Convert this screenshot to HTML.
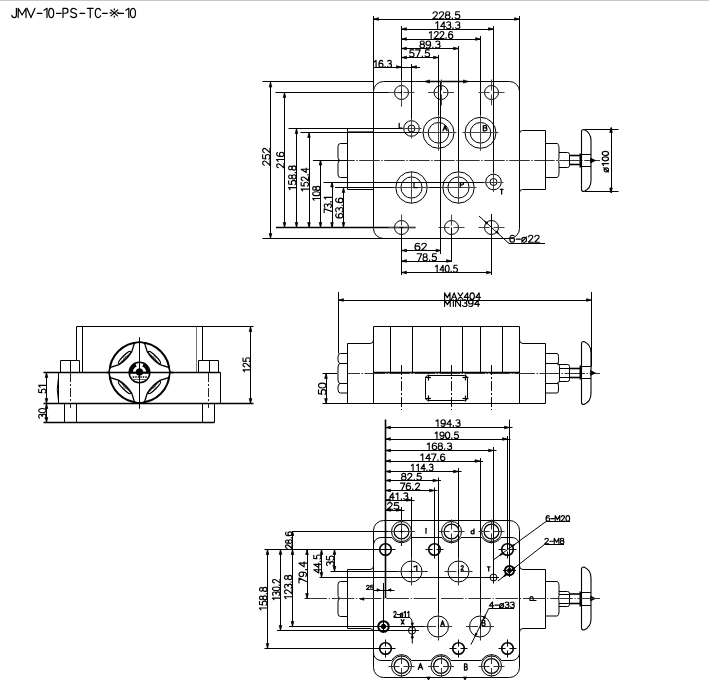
<!DOCTYPE html>
<html><head><meta charset="utf-8"><style>
html,body{margin:0;padding:0;background:#fff;}
body{width:709px;height:688px;overflow:hidden;position:relative;}
svg{position:absolute;left:0;top:0;}
text{font-family:"Liberation Sans",sans-serif;}
</style></head><body>
<svg width="709" height="688" viewBox="0 0 709 688">
<rect x="0" y="0" width="709" height="688" fill="#fff"/>
<line x1="0" y1="0.5" x2="709" y2="0.5" stroke="#c8c8c8" stroke-width="1" />
<path transform="translate(11.800,8.300) scale(8.846,9.300)" d="M0.52,0 V0.74 C0.52,0.92 0.42,1 0.28,1 C0.13,1 0.03,0.92 0,0.76" vector-effect="non-scaling-stroke" fill="none" stroke="#000" stroke-width="1.2" stroke-linecap="round" stroke-linejoin="round"/>
<path transform="translate(18.200,8.300) scale(10.541,9.300)" d="M0,1 V0 L0.37,0.72 L0.74,0 V1" vector-effect="non-scaling-stroke" fill="none" stroke="#000" stroke-width="1.2" stroke-linecap="round" stroke-linejoin="round"/>
<path transform="translate(27.000,8.300) scale(11.111,9.300)" d="M0,0 L0.36,1 L0.72,0" vector-effect="non-scaling-stroke" fill="none" stroke="#000" stroke-width="1.2" stroke-linecap="round" stroke-linejoin="round"/>
<path transform="translate(37.126,8.300) scale(8.679,9.300)" d="M0.02,0.55 H0.55" vector-effect="non-scaling-stroke" fill="none" stroke="#000" stroke-width="1.2" stroke-linecap="round" stroke-linejoin="round"/>
<path transform="translate(42.615,8.300) scale(11.538,9.300)" d="M0.12,0.2 L0.38,0 V1" vector-effect="non-scaling-stroke" fill="none" stroke="#000" stroke-width="1.2" stroke-linecap="round" stroke-linejoin="round"/>
<path transform="translate(48.700,8.300) scale(8.333,9.300)" d="M0.3,0 C0.06,0 0,0.3 0,0.5 C0,0.7 0.06,1 0.3,1 C0.54,1 0.6,0.7 0.6,0.5 C0.6,0.3 0.54,0 0.3,0 Z" vector-effect="non-scaling-stroke" fill="none" stroke="#000" stroke-width="1.2" stroke-linecap="round" stroke-linejoin="round"/>
<path transform="translate(56.326,8.300) scale(8.679,9.300)" d="M0.02,0.55 H0.55" vector-effect="non-scaling-stroke" fill="none" stroke="#000" stroke-width="1.2" stroke-linecap="round" stroke-linejoin="round"/>
<path transform="translate(63.000,8.300) scale(7.812,9.300)" d="M0,1 V0 H0.36 C0.54,0 0.64,0.1 0.64,0.27 C0.64,0.43 0.54,0.53 0.36,0.53 H0" vector-effect="non-scaling-stroke" fill="none" stroke="#000" stroke-width="1.2" stroke-linecap="round" stroke-linejoin="round"/>
<path transform="translate(70.600,8.300) scale(9.524,9.300)" d="M0.6,0.15 C0.52,0.05 0.43,0 0.31,0 C0.14,0 0.03,0.1 0.03,0.25 C0.03,0.57 0.63,0.42 0.63,0.74 C0.63,0.9 0.5,1 0.31,1 C0.18,1 0.07,0.95 0,0.85" vector-effect="non-scaling-stroke" fill="none" stroke="#000" stroke-width="1.2" stroke-linecap="round" stroke-linejoin="round"/>
<path transform="translate(79.826,8.300) scale(8.679,9.300)" d="M0.02,0.55 H0.55" vector-effect="non-scaling-stroke" fill="none" stroke="#000" stroke-width="1.2" stroke-linecap="round" stroke-linejoin="round"/>
<path transform="translate(87.300,8.300) scale(8.939,9.300)" d="M0,0 H0.66 M0.33,0 V1" vector-effect="non-scaling-stroke" fill="none" stroke="#000" stroke-width="1.2" stroke-linecap="round" stroke-linejoin="round"/>
<path transform="translate(95.300,8.300) scale(8.281,9.300)" d="M0.64,0.2 C0.57,0.07 0.46,0 0.34,0 C0.12,0 0,0.22 0,0.5 C0,0.78 0.12,1 0.34,1 C0.46,1 0.57,0.93 0.64,0.8" vector-effect="non-scaling-stroke" fill="none" stroke="#000" stroke-width="1.2" stroke-linecap="round" stroke-linejoin="round"/>
<path transform="translate(102.423,8.300) scale(8.868,9.300)" d="M0.02,0.55 H0.55" vector-effect="non-scaling-stroke" fill="none" stroke="#000" stroke-width="1.2" stroke-linecap="round" stroke-linejoin="round"/>
<path transform="translate(109.764,8.300) scale(11.806,9.300)" d="M0.1,0.18 L0.66,0.82 M0.66,0.18 L0.1,0.82 M0.38,0.05 V0.17 M0.38,0.83 V0.95 M0.02,0.5 H0.14 M0.62,0.5 H0.74" vector-effect="non-scaling-stroke" fill="none" stroke="#000" stroke-width="1.2" stroke-linecap="round" stroke-linejoin="round"/>
<path transform="translate(118.311,8.300) scale(9.434,9.300)" d="M0.02,0.55 H0.55" vector-effect="non-scaling-stroke" fill="none" stroke="#000" stroke-width="1.2" stroke-linecap="round" stroke-linejoin="round"/>
<path transform="translate(124.415,8.300) scale(11.538,9.300)" d="M0.12,0.2 L0.38,0 V1" vector-effect="non-scaling-stroke" fill="none" stroke="#000" stroke-width="1.2" stroke-linecap="round" stroke-linejoin="round"/>
<path transform="translate(130.400,8.300) scale(8.500,9.300)" d="M0.3,0 C0.06,0 0,0.3 0,0.5 C0,0.7 0.06,1 0.3,1 C0.54,1 0.6,0.7 0.6,0.5 C0.6,0.3 0.54,0 0.3,0 Z" vector-effect="non-scaling-stroke" fill="none" stroke="#000" stroke-width="1.2" stroke-linecap="round" stroke-linejoin="round"/>
<line x1="373.5" y1="16" x2="373.5" y2="91" stroke="#000" stroke-width="1" />
<line x1="373.5" y1="19.5" x2="519.5" y2="19.5" stroke="#000" stroke-width="1" />
<polygon points="373.5,19 378.5,17.7 378.5,20.3" fill="#000" stroke="#000" stroke-width="0.7" stroke-linejoin="round"/>
<polygon points="519.5,19 514.5,17.7 514.5,20.3" fill="#000" stroke="#000" stroke-width="0.7" stroke-linejoin="round"/>
<line x1="519.5" y1="16" x2="519.5" y2="92" stroke="#000" stroke-width="1" />
<g transform="translate(432.80,18.80)" fill="none" stroke="#000" stroke-width="1.15" stroke-linecap="round" stroke-linejoin="round"><path transform="translate(0.000,-7.000) scale(7.835,7.000)" d="M0.03,0.24 C0.06,0.06 0.18,0 0.3,0 C0.46,0 0.58,0.1 0.58,0.27 C0.58,0.45 0.4,0.58 0,1 H0.62" vector-effect="non-scaling-stroke"/><path transform="translate(6.268,-7.000) scale(7.835,7.000)" d="M0.03,0.24 C0.06,0.06 0.18,0 0.3,0 C0.46,0 0.58,0.1 0.58,0.27 C0.58,0.45 0.4,0.58 0,1 H0.62" vector-effect="non-scaling-stroke"/><path transform="translate(12.536,-7.000) scale(7.835,7.000)" d="M0.3,0.46 C0.13,0.46 0.04,0.36 0.04,0.23 C0.04,0.1 0.15,0 0.3,0 C0.45,0 0.56,0.1 0.56,0.23 C0.56,0.36 0.47,0.46 0.3,0.46 C0.12,0.46 0,0.58 0,0.73 C0,0.9 0.13,1 0.3,1 C0.47,1 0.6,0.9 0.6,0.73 C0.6,0.58 0.48,0.46 0.3,0.46 Z" vector-effect="non-scaling-stroke"/><path transform="translate(18.803,-7.000) scale(7.835,7.000)" d="M0.1,0.88 L0.1,1" vector-effect="non-scaling-stroke"/><path transform="translate(22.329,-7.000) scale(7.835,7.000)" d="M0.56,0 H0.1 L0.05,0.44 C0.13,0.39 0.21,0.37 0.3,0.37 C0.48,0.37 0.6,0.5 0.6,0.68 C0.6,0.88 0.47,1 0.3,1 C0.18,1 0.07,0.95 0.01,0.86" vector-effect="non-scaling-stroke"/></g>
<line x1="401.5" y1="26" x2="401.5" y2="106.5" stroke="#000" stroke-width="1" />
<line x1="401.5" y1="29.5" x2="493.5" y2="29.5" stroke="#000" stroke-width="1" />
<polygon points="401.5,29 406.5,27.7 406.5,30.3" fill="#000" stroke="#000" stroke-width="0.7" stroke-linejoin="round"/>
<polygon points="493.5,29 488.5,27.7 488.5,30.3" fill="#000" stroke="#000" stroke-width="0.7" stroke-linejoin="round"/>
<line x1="493.5" y1="26" x2="493.5" y2="182" stroke="#000" stroke-width="1" />
<g transform="translate(434.90,28.70)" fill="none" stroke="#000" stroke-width="1.15" stroke-linecap="round" stroke-linejoin="round"><path transform="translate(0.000,-7.000) scale(7.236,7.000)" d="M0.12,0.2 L0.38,0 V1" vector-effect="non-scaling-stroke"/><path transform="translate(5.789,-7.000) scale(7.236,7.000)" d="M0.47,1 V0 L0,0.68 H0.64" vector-effect="non-scaling-stroke"/><path transform="translate(11.578,-7.000) scale(7.236,7.000)" d="M0.04,0.1 C0.12,0.03 0.2,0 0.3,0 C0.46,0 0.57,0.1 0.57,0.24 C0.57,0.38 0.46,0.47 0.27,0.47 C0.5,0.47 0.6,0.58 0.6,0.73 C0.6,0.9 0.46,1 0.3,1 C0.18,1 0.08,0.96 0.01,0.87" vector-effect="non-scaling-stroke"/><path transform="translate(17.368,-7.000) scale(7.236,7.000)" d="M0.1,0.88 L0.1,1" vector-effect="non-scaling-stroke"/><path transform="translate(20.624,-7.000) scale(7.236,7.000)" d="M0.04,0.1 C0.12,0.03 0.2,0 0.3,0 C0.46,0 0.57,0.1 0.57,0.24 C0.57,0.38 0.46,0.47 0.27,0.47 C0.5,0.47 0.6,0.58 0.6,0.73 C0.6,0.9 0.46,1 0.3,1 C0.18,1 0.08,0.96 0.01,0.87" vector-effect="non-scaling-stroke"/></g>
<line x1="401.5" y1="39.5" x2="480.5" y2="39.5" stroke="#000" stroke-width="1" />
<polygon points="401.5,39 406.5,37.7 406.5,40.3" fill="#000" stroke="#000" stroke-width="0.7" stroke-linejoin="round"/>
<polygon points="480.5,39 475.5,37.7 475.5,40.3" fill="#000" stroke="#000" stroke-width="0.7" stroke-linejoin="round"/>
<line x1="480.5" y1="36" x2="480.5" y2="148" stroke="#000" stroke-width="1" />
<g transform="translate(428.50,38.50)" fill="none" stroke="#000" stroke-width="1.15" stroke-linecap="round" stroke-linejoin="round"><path transform="translate(0.000,-7.000) scale(7.037,7.000)" d="M0.12,0.2 L0.38,0 V1" vector-effect="non-scaling-stroke"/><path transform="translate(5.630,-7.000) scale(7.037,7.000)" d="M0.03,0.24 C0.06,0.06 0.18,0 0.3,0 C0.46,0 0.58,0.1 0.58,0.27 C0.58,0.45 0.4,0.58 0,1 H0.62" vector-effect="non-scaling-stroke"/><path transform="translate(11.259,-7.000) scale(7.037,7.000)" d="M0.03,0.24 C0.06,0.06 0.18,0 0.3,0 C0.46,0 0.58,0.1 0.58,0.27 C0.58,0.45 0.4,0.58 0,1 H0.62" vector-effect="non-scaling-stroke"/><path transform="translate(16.889,-7.000) scale(7.037,7.000)" d="M0.1,0.88 L0.1,1" vector-effect="non-scaling-stroke"/><path transform="translate(20.056,-7.000) scale(7.037,7.000)" d="M0.56,0.1 C0.49,0.03 0.41,0 0.32,0 C0.1,0 0,0.25 0,0.58 C0,0.86 0.12,1 0.3,1 C0.48,1 0.6,0.87 0.6,0.68 C0.6,0.5 0.48,0.38 0.3,0.38 C0.15,0.38 0.03,0.47 0,0.62" vector-effect="non-scaling-stroke"/></g>
<line x1="401.5" y1="48.5" x2="458.5" y2="48.5" stroke="#000" stroke-width="1" />
<polygon points="401.5,48.5 406.5,47.2 406.5,49.8" fill="#000" stroke="#000" stroke-width="0.7" stroke-linejoin="round"/>
<polygon points="458.5,48.5 453.5,47.2 453.5,49.8" fill="#000" stroke="#000" stroke-width="0.7" stroke-linejoin="round"/>
<line x1="458.5" y1="46" x2="458.5" y2="203" stroke="#000" stroke-width="1" />
<g transform="translate(420.00,48.00)" fill="none" stroke="#000" stroke-width="1.15" stroke-linecap="round" stroke-linejoin="round"><path transform="translate(0.000,-7.000) scale(7.565,7.000)" d="M0.3,0.46 C0.13,0.46 0.04,0.36 0.04,0.23 C0.04,0.1 0.15,0 0.3,0 C0.45,0 0.56,0.1 0.56,0.23 C0.56,0.36 0.47,0.46 0.3,0.46 C0.12,0.46 0,0.58 0,0.73 C0,0.9 0.13,1 0.3,1 C0.47,1 0.6,0.9 0.6,0.73 C0.6,0.58 0.48,0.46 0.3,0.46 Z" vector-effect="non-scaling-stroke"/><path transform="translate(6.052,-7.000) scale(7.565,7.000)" d="M0.04,0.9 C0.11,0.97 0.19,1 0.28,1 C0.5,1 0.6,0.75 0.6,0.42 C0.6,0.14 0.48,0 0.3,0 C0.12,0 0,0.13 0,0.32 C0,0.5 0.12,0.62 0.3,0.62 C0.45,0.62 0.57,0.53 0.6,0.38" vector-effect="non-scaling-stroke"/><path transform="translate(12.103,-7.000) scale(7.565,7.000)" d="M0.1,0.88 L0.1,1" vector-effect="non-scaling-stroke"/><path transform="translate(15.507,-7.000) scale(7.565,7.000)" d="M0.04,0.1 C0.12,0.03 0.2,0 0.3,0 C0.46,0 0.57,0.1 0.57,0.24 C0.57,0.38 0.46,0.47 0.27,0.47 C0.5,0.47 0.6,0.58 0.6,0.73 C0.6,0.9 0.46,1 0.3,1 C0.18,1 0.08,0.96 0.01,0.87" vector-effect="non-scaling-stroke"/></g>
<line x1="401.5" y1="57.5" x2="438.5" y2="57.5" stroke="#000" stroke-width="1" />
<polygon points="401.5,57.5 406.5,56.2 406.5,58.8" fill="#000" stroke="#000" stroke-width="0.7" stroke-linejoin="round"/>
<polygon points="438.5,57.5 433.5,56.2 433.5,58.8" fill="#000" stroke="#000" stroke-width="0.7" stroke-linejoin="round"/>
<line x1="438.5" y1="55" x2="438.5" y2="148" stroke="#000" stroke-width="1" />
<line x1="425" y1="81.5" x2="468" y2="81.5" stroke="#000" stroke-width="1.4" />
<polygon points="425.5,81.5 429.5,79.9 429.5,83.1" fill="#000" stroke="#000" stroke-width="0.7" stroke-linejoin="round"/>
<polygon points="467.5,81.5 463.5,79.9 463.5,83.1" fill="#000" stroke="#000" stroke-width="0.7" stroke-linejoin="round"/>
<g transform="translate(409.50,56.90)" fill="none" stroke="#000" stroke-width="1.15" stroke-linecap="round" stroke-linejoin="round"><path transform="translate(0.000,-7.000) scale(7.565,7.000)" d="M0.56,0 H0.1 L0.05,0.44 C0.13,0.39 0.21,0.37 0.3,0.37 C0.48,0.37 0.6,0.5 0.6,0.68 C0.6,0.88 0.47,1 0.3,1 C0.18,1 0.07,0.95 0.01,0.86" vector-effect="non-scaling-stroke"/><path transform="translate(6.052,-7.000) scale(7.565,7.000)" d="M0,0 H0.62 L0.2,1" vector-effect="non-scaling-stroke"/><path transform="translate(12.103,-7.000) scale(7.565,7.000)" d="M0.1,0.88 L0.1,1" vector-effect="non-scaling-stroke"/><path transform="translate(15.507,-7.000) scale(7.565,7.000)" d="M0.56,0 H0.1 L0.05,0.44 C0.13,0.39 0.21,0.37 0.3,0.37 C0.48,0.37 0.6,0.5 0.6,0.68 C0.6,0.88 0.47,1 0.3,1 C0.18,1 0.07,0.95 0.01,0.86" vector-effect="non-scaling-stroke"/></g>
<line x1="373.5" y1="67.5" x2="420" y2="67.5" stroke="#000" stroke-width="1" />
<polygon points="401.5,67 396.5,65.7 396.5,68.3" fill="#000" stroke="#000" stroke-width="0.7" stroke-linejoin="round"/>
<polygon points="411.5,67 416.5,65.7 416.5,68.3" fill="#000" stroke="#000" stroke-width="0.7" stroke-linejoin="round"/>
<line x1="411.5" y1="64" x2="411.5" y2="128" stroke="#000" stroke-width="1" />
<g transform="translate(373.50,67.40)" fill="none" stroke="#000" stroke-width="1.15" stroke-linecap="round" stroke-linejoin="round"><path transform="translate(0.000,-7.000) scale(6.790,7.000)" d="M0.12,0.2 L0.38,0 V1" vector-effect="non-scaling-stroke"/><path transform="translate(5.432,-7.000) scale(6.790,7.000)" d="M0.56,0.1 C0.49,0.03 0.41,0 0.32,0 C0.1,0 0,0.25 0,0.58 C0,0.86 0.12,1 0.3,1 C0.48,1 0.6,0.87 0.6,0.68 C0.6,0.5 0.48,0.38 0.3,0.38 C0.15,0.38 0.03,0.47 0,0.62" vector-effect="non-scaling-stroke"/><path transform="translate(10.863,-7.000) scale(6.790,7.000)" d="M0.1,0.88 L0.1,1" vector-effect="non-scaling-stroke"/><path transform="translate(13.919,-7.000) scale(6.790,7.000)" d="M0.04,0.1 C0.12,0.03 0.2,0 0.3,0 C0.46,0 0.57,0.1 0.57,0.24 C0.57,0.38 0.46,0.47 0.27,0.47 C0.5,0.47 0.6,0.58 0.6,0.73 C0.6,0.9 0.46,1 0.3,1 C0.18,1 0.08,0.96 0.01,0.87" vector-effect="non-scaling-stroke"/></g>
<line x1="262.5" y1="81.5" x2="373.5" y2="81.5" stroke="#000" stroke-width="1" />
<line x1="275.5" y1="92.5" x2="401.5" y2="92.5" stroke="#000" stroke-width="1" />
<line x1="288.5" y1="128.5" x2="404" y2="128.5" stroke="#000" stroke-width="1" />
<line x1="300.5" y1="132.5" x2="423" y2="132.5" stroke="#000" stroke-width="1" />
<line x1="323.5" y1="182.5" x2="493.5" y2="182.5" stroke="#000" stroke-width="1" />
<line x1="335" y1="187.5" x2="470" y2="187.5" stroke="#000" stroke-width="1" />
<line x1="276" y1="227.5" x2="415.5" y2="227.5" stroke="#000" stroke-width="1.6" />
<line x1="262.5" y1="238.5" x2="385" y2="238.5" stroke="#000" stroke-width="1" />
<line x1="270.5" y1="82" x2="270.5" y2="238.5" stroke="#000" stroke-width="1" />
<polygon points="270.5,82 269.2,87 271.8,87" fill="#000" stroke="#000" stroke-width="0.7" stroke-linejoin="round"/>
<polygon points="270.5,238.5 269.2,233.5 271.8,233.5" fill="#000" stroke="#000" stroke-width="0.7" stroke-linejoin="round"/>
<g transform="translate(270.00,165.50) rotate(-90)" fill="none" stroke="#000" stroke-width="1.15" stroke-linecap="round" stroke-linejoin="round"><path transform="translate(0.000,-7.350) scale(7.832,7.350)" d="M0.03,0.24 C0.06,0.06 0.18,0 0.3,0 C0.46,0 0.58,0.1 0.58,0.27 C0.58,0.45 0.4,0.58 0,1 H0.62" vector-effect="non-scaling-stroke"/><path transform="translate(6.265,-7.350) scale(7.832,7.350)" d="M0.56,0 H0.1 L0.05,0.44 C0.13,0.39 0.21,0.37 0.3,0.37 C0.48,0.37 0.6,0.5 0.6,0.68 C0.6,0.88 0.47,1 0.3,1 C0.18,1 0.07,0.95 0.01,0.86" vector-effect="non-scaling-stroke"/><path transform="translate(12.531,-7.350) scale(7.832,7.350)" d="M0.03,0.24 C0.06,0.06 0.18,0 0.3,0 C0.46,0 0.58,0.1 0.58,0.27 C0.58,0.45 0.4,0.58 0,1 H0.62" vector-effect="non-scaling-stroke"/></g>
<line x1="284.5" y1="92.5" x2="284.5" y2="227.5" stroke="#000" stroke-width="1" />
<polygon points="284.5,92.5 283.2,97.5 285.8,97.5" fill="#000" stroke="#000" stroke-width="0.7" stroke-linejoin="round"/>
<polygon points="284.5,227.5 283.2,222.5 285.8,222.5" fill="#000" stroke="#000" stroke-width="0.7" stroke-linejoin="round"/>
<g transform="translate(284.00,168.00) rotate(-90)" fill="none" stroke="#000" stroke-width="1.15" stroke-linecap="round" stroke-linejoin="round"><path transform="translate(0.000,-7.350) scale(7.168,7.350)" d="M0.03,0.24 C0.06,0.06 0.18,0 0.3,0 C0.46,0 0.58,0.1 0.58,0.27 C0.58,0.45 0.4,0.58 0,1 H0.62" vector-effect="non-scaling-stroke"/><path transform="translate(5.735,-7.350) scale(7.168,7.350)" d="M0.12,0.2 L0.38,0 V1" vector-effect="non-scaling-stroke"/><path transform="translate(11.469,-7.350) scale(7.168,7.350)" d="M0.56,0.1 C0.49,0.03 0.41,0 0.32,0 C0.1,0 0,0.25 0,0.58 C0,0.86 0.12,1 0.3,1 C0.48,1 0.6,0.87 0.6,0.68 C0.6,0.5 0.48,0.38 0.3,0.38 C0.15,0.38 0.03,0.47 0,0.62" vector-effect="non-scaling-stroke"/></g>
<line x1="296.5" y1="128.5" x2="296.5" y2="227.5" stroke="#000" stroke-width="1" />
<polygon points="296.5,128.5 295.2,133.5 297.8,133.5" fill="#000" stroke="#000" stroke-width="0.7" stroke-linejoin="round"/>
<polygon points="296.5,227.5 295.2,222.5 297.8,222.5" fill="#000" stroke="#000" stroke-width="0.7" stroke-linejoin="round"/>
<g transform="translate(296.00,190.40) rotate(-90)" fill="none" stroke="#000" stroke-width="1.15" stroke-linecap="round" stroke-linejoin="round"><path transform="translate(0.000,-7.350) scale(7.123,7.350)" d="M0.12,0.2 L0.38,0 V1" vector-effect="non-scaling-stroke"/><path transform="translate(5.698,-7.350) scale(7.123,7.350)" d="M0.56,0 H0.1 L0.05,0.44 C0.13,0.39 0.21,0.37 0.3,0.37 C0.48,0.37 0.6,0.5 0.6,0.68 C0.6,0.88 0.47,1 0.3,1 C0.18,1 0.07,0.95 0.01,0.86" vector-effect="non-scaling-stroke"/><path transform="translate(11.396,-7.350) scale(7.123,7.350)" d="M0.3,0.46 C0.13,0.46 0.04,0.36 0.04,0.23 C0.04,0.1 0.15,0 0.3,0 C0.45,0 0.56,0.1 0.56,0.23 C0.56,0.36 0.47,0.46 0.3,0.46 C0.12,0.46 0,0.58 0,0.73 C0,0.9 0.13,1 0.3,1 C0.47,1 0.6,0.9 0.6,0.73 C0.6,0.58 0.48,0.46 0.3,0.46 Z" vector-effect="non-scaling-stroke"/><path transform="translate(17.094,-7.350) scale(7.123,7.350)" d="M0.1,0.88 L0.1,1" vector-effect="non-scaling-stroke"/><path transform="translate(20.299,-7.350) scale(7.123,7.350)" d="M0.3,0.46 C0.13,0.46 0.04,0.36 0.04,0.23 C0.04,0.1 0.15,0 0.3,0 C0.45,0 0.56,0.1 0.56,0.23 C0.56,0.36 0.47,0.46 0.3,0.46 C0.12,0.46 0,0.58 0,0.73 C0,0.9 0.13,1 0.3,1 C0.47,1 0.6,0.9 0.6,0.73 C0.6,0.58 0.48,0.46 0.3,0.46 Z" vector-effect="non-scaling-stroke"/></g>
<line x1="309.5" y1="132.5" x2="309.5" y2="227.5" stroke="#000" stroke-width="1" />
<polygon points="309,132.5 307.7,137.5 310.3,137.5" fill="#000" stroke="#000" stroke-width="0.7" stroke-linejoin="round"/>
<polygon points="309,227.5 307.7,222.5 310.3,222.5" fill="#000" stroke="#000" stroke-width="0.7" stroke-linejoin="round"/>
<g transform="translate(308.50,191.70) rotate(-90)" fill="none" stroke="#000" stroke-width="1.15" stroke-linecap="round" stroke-linejoin="round"><path transform="translate(0.000,-7.350) scale(6.752,7.350)" d="M0.12,0.2 L0.38,0 V1" vector-effect="non-scaling-stroke"/><path transform="translate(5.402,-7.350) scale(6.752,7.350)" d="M0.56,0 H0.1 L0.05,0.44 C0.13,0.39 0.21,0.37 0.3,0.37 C0.48,0.37 0.6,0.5 0.6,0.68 C0.6,0.88 0.47,1 0.3,1 C0.18,1 0.07,0.95 0.01,0.86" vector-effect="non-scaling-stroke"/><path transform="translate(10.803,-7.350) scale(6.752,7.350)" d="M0.03,0.24 C0.06,0.06 0.18,0 0.3,0 C0.46,0 0.58,0.1 0.58,0.27 C0.58,0.45 0.4,0.58 0,1 H0.62" vector-effect="non-scaling-stroke"/><path transform="translate(16.205,-7.350) scale(6.752,7.350)" d="M0.1,0.88 L0.1,1" vector-effect="non-scaling-stroke"/><path transform="translate(19.244,-7.350) scale(6.752,7.350)" d="M0.47,1 V0 L0,0.68 H0.64" vector-effect="non-scaling-stroke"/></g>
<line x1="320.5" y1="160" x2="320.5" y2="227.5" stroke="#000" stroke-width="1" />
<polygon points="320.5,160 319.2,165 321.8,165" fill="#000" stroke="#000" stroke-width="0.7" stroke-linejoin="round"/>
<polygon points="320.5,227.5 319.2,222.5 321.8,222.5" fill="#000" stroke="#000" stroke-width="0.7" stroke-linejoin="round"/>
<g transform="translate(320.00,201.00) rotate(-90)" fill="none" stroke="#000" stroke-width="1.15" stroke-linecap="round" stroke-linejoin="round"><path transform="translate(0.000,-7.350) scale(6.637,7.350)" d="M0.12,0.2 L0.38,0 V1" vector-effect="non-scaling-stroke"/><path transform="translate(5.310,-7.350) scale(6.637,7.350)" d="M0.3,0 C0.06,0 0,0.3 0,0.5 C0,0.7 0.06,1 0.3,1 C0.54,1 0.6,0.7 0.6,0.5 C0.6,0.3 0.54,0 0.3,0 Z" vector-effect="non-scaling-stroke"/><path transform="translate(10.619,-7.350) scale(6.637,7.350)" d="M0.3,0.46 C0.13,0.46 0.04,0.36 0.04,0.23 C0.04,0.1 0.15,0 0.3,0 C0.45,0 0.56,0.1 0.56,0.23 C0.56,0.36 0.47,0.46 0.3,0.46 C0.12,0.46 0,0.58 0,0.73 C0,0.9 0.13,1 0.3,1 C0.47,1 0.6,0.9 0.6,0.73 C0.6,0.58 0.48,0.46 0.3,0.46 Z" vector-effect="non-scaling-stroke"/></g>
<line x1="332.5" y1="182" x2="332.5" y2="227.5" stroke="#000" stroke-width="1" />
<polygon points="332,182 330.7,187 333.3,187" fill="#000" stroke="#000" stroke-width="0.7" stroke-linejoin="round"/>
<polygon points="332,227.5 330.7,222.5 333.3,222.5" fill="#000" stroke="#000" stroke-width="0.7" stroke-linejoin="round"/>
<g transform="translate(331.50,212.60) rotate(-90)" fill="none" stroke="#000" stroke-width="1.15" stroke-linecap="round" stroke-linejoin="round"><path transform="translate(0.000,-7.350) scale(6.273,7.350)" d="M0,0 H0.62 L0.2,1" vector-effect="non-scaling-stroke"/><path transform="translate(5.018,-7.350) scale(6.273,7.350)" d="M0.04,0.1 C0.12,0.03 0.2,0 0.3,0 C0.46,0 0.57,0.1 0.57,0.24 C0.57,0.38 0.46,0.47 0.27,0.47 C0.5,0.47 0.6,0.58 0.6,0.73 C0.6,0.9 0.46,1 0.3,1 C0.18,1 0.08,0.96 0.01,0.87" vector-effect="non-scaling-stroke"/><path transform="translate(10.037,-7.350) scale(6.273,7.350)" d="M0.1,0.88 L0.1,1" vector-effect="non-scaling-stroke"/><path transform="translate(12.860,-7.350) scale(6.273,7.350)" d="M0.12,0.2 L0.38,0 V1" vector-effect="non-scaling-stroke"/></g>
<line x1="343.5" y1="187.5" x2="343.5" y2="227.5" stroke="#000" stroke-width="1" />
<polygon points="343.5,187.5 342.2,192.5 344.8,192.5" fill="#000" stroke="#000" stroke-width="0.7" stroke-linejoin="round"/>
<polygon points="343.5,227.5 342.2,222.5 344.8,222.5" fill="#000" stroke="#000" stroke-width="0.7" stroke-linejoin="round"/>
<g transform="translate(343.00,218.00) rotate(-90)" fill="none" stroke="#000" stroke-width="1.15" stroke-linecap="round" stroke-linejoin="round"><path transform="translate(0.000,-7.350) scale(7.491,7.350)" d="M0.56,0.1 C0.49,0.03 0.41,0 0.32,0 C0.1,0 0,0.25 0,0.58 C0,0.86 0.12,1 0.3,1 C0.48,1 0.6,0.87 0.6,0.68 C0.6,0.5 0.48,0.38 0.3,0.38 C0.15,0.38 0.03,0.47 0,0.62" vector-effect="non-scaling-stroke"/><path transform="translate(5.993,-7.350) scale(7.491,7.350)" d="M0.04,0.1 C0.12,0.03 0.2,0 0.3,0 C0.46,0 0.57,0.1 0.57,0.24 C0.57,0.38 0.46,0.47 0.27,0.47 C0.5,0.47 0.6,0.58 0.6,0.73 C0.6,0.9 0.46,1 0.3,1 C0.18,1 0.08,0.96 0.01,0.87" vector-effect="non-scaling-stroke"/><path transform="translate(11.985,-7.350) scale(7.491,7.350)" d="M0.1,0.88 L0.1,1" vector-effect="non-scaling-stroke"/><path transform="translate(15.356,-7.350) scale(7.491,7.350)" d="M0.56,0.1 C0.49,0.03 0.41,0 0.32,0 C0.1,0 0,0.25 0,0.58 C0,0.86 0.12,1 0.3,1 C0.48,1 0.6,0.87 0.6,0.68 C0.6,0.5 0.48,0.38 0.3,0.38 C0.15,0.38 0.03,0.47 0,0.62" vector-effect="non-scaling-stroke"/></g>
<path d="M383.5,81.5 H509.5 A10,10 0 0 1 519.5,91.5 V228.5 A10,10 0 0 1 509.5,238.5 H383.5 A10,10 0 0 1 373.5,228.5 V91.5 A10,10 0 0 1 383.5,81.5 Z" fill="none" stroke="#000" stroke-width="1"/>
<path d="M373.5,128.5 H347.5 V189.5 H373.5" fill="none" stroke="#000" stroke-width="1"/>
<line x1="347.5" y1="131.5" x2="373.5" y2="131.5" stroke="#666" stroke-width="1" />
<path d="M347.5,143.5 H340.5 Q338,143.5 338,146.5 V157.5 Q338,160.5 340.5,160.5 H347.5 M340.5,160.5 H340.5 Q338,160.5 338,163.5 V174.5 Q338,177.5 340.5,177.5 H347.5" fill="none" stroke="#000" stroke-width="1"/>
<line x1="313" y1="160.5" x2="347.5" y2="160.5" stroke="#000" stroke-width="1" />
<line x1="347.5" y1="160.5" x2="600" y2="160.5" stroke="#333" stroke-width="1" stroke-dasharray="20.5 1.5 1.5 1.5" stroke-dashoffset="13.3"/>
<path d="M519.5,133.5 Q519.5,130.5 522.5,130.5 H545.5 V189.5 H522.5 Q519.5,189.5 519.5,192.5" fill="none" stroke="#000" stroke-width="1"/>
<path d="M545.5,143.5 H557.5 Q559.0,145.0 559.0,147.5 V157.5 Q559.0,159.5 558.0,160.5 Q559.0,161.5 559.0,163.5 V173.5 Q559.0,176.0 557.5,177.5 H545.5" fill="none" stroke="#000" stroke-width="1"/>
<path d="M559.0,152.5 H567.5 Q569.5,152.5 569.5,154.5 V165.5 Q569.5,167.5 567.5,167.5 H559.0" fill="none" stroke="#000" stroke-width="1"/>
<line x1="569.5" y1="155.5" x2="581" y2="155.5" stroke="#000" stroke-width="1.6" />
<line x1="569.5" y1="164.5" x2="581" y2="164.5" stroke="#000" stroke-width="1.6" />
<path d="M581.5,131.5 Q581.5,129.5 584,129.5 Q591,132.5 591,140.5 V180.5 Q591,188.5 584,191.5 Q581.5,191.5 581.5,189.5 Z" fill="none" stroke="#000" stroke-width="1.1"/>
<line x1="580.5" y1="153.5" x2="580.5" y2="167.5" stroke="#000" stroke-width="2" />
<line x1="581.5" y1="154.5" x2="591" y2="154.5" stroke="#000" stroke-width="1" />
<line x1="581.5" y1="166.5" x2="591" y2="166.5" stroke="#000" stroke-width="1" />
<polygon points="595.5,160.5 590.5,158.1 590.5,162.9" fill="#000" stroke="#000" stroke-width="0.7" stroke-linejoin="round"/>
<line x1="585" y1="129.5" x2="618.5" y2="129.5" stroke="#000" stroke-width="1" />
<line x1="585" y1="191.5" x2="618.5" y2="191.5" stroke="#000" stroke-width="1" />
<line x1="611.5" y1="127.5" x2="611.5" y2="193" stroke="#000" stroke-width="1" />
<polygon points="611,127.5 609.7,132.5 612.3,132.5" fill="#000" stroke="#000" stroke-width="0.7" stroke-linejoin="round"/>
<polygon points="611,193 609.7,188 612.3,188" fill="#000" stroke="#000" stroke-width="0.7" stroke-linejoin="round"/>
<g transform="translate(608.50,172.00) rotate(-90)" fill="none" stroke="#000" stroke-width="1.15" stroke-linecap="round" stroke-linejoin="round"><path transform="translate(0.000,-6.300) scale(6.752,6.300)" d="M0.32,0.3 C0.12,0.3 0.02,0.45 0.02,0.65 C0.02,0.86 0.12,1 0.32,1 C0.52,1 0.62,0.86 0.62,0.65 C0.62,0.45 0.52,0.3 0.32,0.3 Z M0,1 L0.64,0.25" vector-effect="non-scaling-stroke"/><path transform="translate(5.740,-6.300) scale(6.752,6.300)" d="M0.12,0.2 L0.38,0 V1" vector-effect="non-scaling-stroke"/><path transform="translate(11.141,-6.300) scale(6.752,6.300)" d="M0.3,0 C0.06,0 0,0.3 0,0.5 C0,0.7 0.06,1 0.3,1 C0.54,1 0.6,0.7 0.6,0.5 C0.6,0.3 0.54,0 0.3,0 Z" vector-effect="non-scaling-stroke"/><path transform="translate(16.543,-6.300) scale(6.752,6.300)" d="M0.3,0 C0.06,0 0,0.3 0,0.5 C0,0.7 0.06,1 0.3,1 C0.54,1 0.6,0.7 0.6,0.5 C0.6,0.3 0.54,0 0.3,0 Z" vector-effect="non-scaling-stroke"/></g>
<circle cx="401.5" cy="92.5" r="7" fill="none" stroke="#000" stroke-width="1"/>
<line x1="388.5" y1="92.5" x2="399.5" y2="92.5" stroke="#444" stroke-width="1" />
<line x1="403.5" y1="92.5" x2="414.5" y2="92.5" stroke="#444" stroke-width="1" />
<line x1="401.5" y1="79.5" x2="401.5" y2="90.5" stroke="#444" stroke-width="1" />
<line x1="401.5" y1="94.5" x2="401.5" y2="105.5" stroke="#444" stroke-width="1" />
<circle cx="441" cy="92.5" r="7" fill="none" stroke="#000" stroke-width="1"/>
<line x1="428" y1="92.5" x2="439" y2="92.5" stroke="#444" stroke-width="1" />
<line x1="443" y1="92.5" x2="454" y2="92.5" stroke="#444" stroke-width="1" />
<line x1="441.5" y1="79.5" x2="441.5" y2="90.5" stroke="#444" stroke-width="1" />
<line x1="441.5" y1="94.5" x2="441.5" y2="105.5" stroke="#444" stroke-width="1" />
<circle cx="491.5" cy="92.5" r="7" fill="none" stroke="#000" stroke-width="1"/>
<line x1="478.5" y1="92.5" x2="489.5" y2="92.5" stroke="#444" stroke-width="1" />
<line x1="493.5" y1="92.5" x2="504.5" y2="92.5" stroke="#444" stroke-width="1" />
<line x1="491.5" y1="79.5" x2="491.5" y2="90.5" stroke="#444" stroke-width="1" />
<line x1="491.5" y1="94.5" x2="491.5" y2="105.5" stroke="#444" stroke-width="1" />
<circle cx="401.5" cy="227.5" r="7" fill="none" stroke="#000" stroke-width="1"/>
<line x1="388.5" y1="227.5" x2="399.5" y2="227.5" stroke="#444" stroke-width="1" />
<line x1="403.5" y1="227.5" x2="414.5" y2="227.5" stroke="#444" stroke-width="1" />
<line x1="401.5" y1="214.5" x2="401.5" y2="225.5" stroke="#444" stroke-width="1" />
<line x1="401.5" y1="229.5" x2="401.5" y2="240.5" stroke="#444" stroke-width="1" />
<circle cx="451.5" cy="227.5" r="7" fill="none" stroke="#000" stroke-width="1"/>
<line x1="438.5" y1="227.5" x2="449.5" y2="227.5" stroke="#444" stroke-width="1" />
<line x1="453.5" y1="227.5" x2="464.5" y2="227.5" stroke="#444" stroke-width="1" />
<line x1="451.5" y1="214.5" x2="451.5" y2="225.5" stroke="#444" stroke-width="1" />
<line x1="451.5" y1="229.5" x2="451.5" y2="240.5" stroke="#444" stroke-width="1" />
<circle cx="491.5" cy="227.5" r="7" fill="none" stroke="#000" stroke-width="1"/>
<line x1="478.5" y1="227.5" x2="489.5" y2="227.5" stroke="#444" stroke-width="1" />
<line x1="493.5" y1="227.5" x2="504.5" y2="227.5" stroke="#444" stroke-width="1" />
<line x1="491.5" y1="214.5" x2="491.5" y2="225.5" stroke="#444" stroke-width="1" />
<line x1="491.5" y1="229.5" x2="491.5" y2="240.5" stroke="#444" stroke-width="1" />
<circle cx="438.5" cy="132.8" r="15.5" fill="none" stroke="#000" stroke-width="1"/>
<circle cx="438.5" cy="132.8" r="10.3" fill="none" stroke="#000" stroke-width="1"/>
<line x1="420.5" y1="132.5" x2="456.5" y2="132.5" stroke="#444" stroke-width="1" />
<line x1="438.5" y1="114.8" x2="438.5" y2="150.8" stroke="#444" stroke-width="1" />
<circle cx="480.5" cy="132.8" r="15.5" fill="none" stroke="#000" stroke-width="1"/>
<circle cx="480.5" cy="132.8" r="10.3" fill="none" stroke="#000" stroke-width="1"/>
<line x1="462.5" y1="132.5" x2="498.5" y2="132.5" stroke="#444" stroke-width="1" />
<line x1="480.5" y1="114.8" x2="480.5" y2="150.8" stroke="#444" stroke-width="1" />
<circle cx="411.5" cy="187.5" r="15.7" fill="none" stroke="#000" stroke-width="1"/>
<circle cx="411.5" cy="187.5" r="10.6" fill="none" stroke="#000" stroke-width="1"/>
<line x1="393.5" y1="187.5" x2="429.5" y2="187.5" stroke="#444" stroke-width="1" />
<line x1="411.5" y1="171.5" x2="411.5" y2="203.5" stroke="#444" stroke-width="1" />
<circle cx="458.5" cy="187.5" r="15.7" fill="none" stroke="#000" stroke-width="1"/>
<circle cx="458.5" cy="187.5" r="10.6" fill="none" stroke="#000" stroke-width="1"/>
<line x1="440.5" y1="187.5" x2="476.5" y2="187.5" stroke="#444" stroke-width="1" />
<line x1="458.5" y1="171.5" x2="458.5" y2="203.5" stroke="#444" stroke-width="1" />
<circle cx="411.5" cy="128.5" r="7.8" fill="none" stroke="#000" stroke-width="1"/>
<circle cx="411.5" cy="128.5" r="3.5" fill="none" stroke="#000" stroke-width="1"/>
<line x1="401.5" y1="128.5" x2="421.5" y2="128.5" stroke="#444" stroke-width="1" />
<line x1="411.5" y1="118.5" x2="411.5" y2="138.5" stroke="#444" stroke-width="1" />
<circle cx="493.5" cy="182" r="7.8" fill="none" stroke="#000" stroke-width="1"/>
<circle cx="493.5" cy="182" r="3.5" fill="none" stroke="#000" stroke-width="1"/>
<line x1="483.5" y1="182.5" x2="503.5" y2="182.5" stroke="#444" stroke-width="1" />
<line x1="493.5" y1="172" x2="493.5" y2="192" stroke="#444" stroke-width="1" />
<line x1="401.5" y1="227.5" x2="401.5" y2="275" stroke="#000" stroke-width="1" />
<line x1="440.5" y1="81" x2="440.5" y2="254" stroke="#000" stroke-width="1" />
<line x1="451.5" y1="227.5" x2="451.5" y2="262" stroke="#000" stroke-width="1" />
<line x1="491.5" y1="214" x2="491.5" y2="275" stroke="#000" stroke-width="1" />
<line x1="401.5" y1="250.5" x2="441" y2="250.5" stroke="#000" stroke-width="1" />
<polygon points="401.5,250.5 406.5,249.2 406.5,251.8" fill="#000" stroke="#000" stroke-width="0.7" stroke-linejoin="round"/>
<polygon points="441,250.5 436,249.2 436,251.8" fill="#000" stroke="#000" stroke-width="0.7" stroke-linejoin="round"/>
<g transform="translate(415.00,250.20)" fill="none" stroke="#000" stroke-width="1.15" stroke-linecap="round" stroke-linejoin="round"><path transform="translate(0.000,-7.000) scale(8.219,7.000)" d="M0.56,0.1 C0.49,0.03 0.41,0 0.32,0 C0.1,0 0,0.25 0,0.58 C0,0.86 0.12,1 0.3,1 C0.48,1 0.6,0.87 0.6,0.68 C0.6,0.5 0.48,0.38 0.3,0.38 C0.15,0.38 0.03,0.47 0,0.62" vector-effect="non-scaling-stroke"/><path transform="translate(6.575,-7.000) scale(8.219,7.000)" d="M0.03,0.24 C0.06,0.06 0.18,0 0.3,0 C0.46,0 0.58,0.1 0.58,0.27 C0.58,0.45 0.4,0.58 0,1 H0.62" vector-effect="non-scaling-stroke"/></g>
<line x1="401.5" y1="261.5" x2="451.5" y2="261.5" stroke="#000" stroke-width="1" />
<polygon points="401.5,261 406.5,259.7 406.5,262.3" fill="#000" stroke="#000" stroke-width="0.7" stroke-linejoin="round"/>
<polygon points="451.5,261 446.5,259.7 446.5,262.3" fill="#000" stroke="#000" stroke-width="0.7" stroke-linejoin="round"/>
<g transform="translate(417.10,260.80)" fill="none" stroke="#000" stroke-width="1.15" stroke-linecap="round" stroke-linejoin="round"><path transform="translate(0.000,-7.000) scale(7.306,7.000)" d="M0,0 H0.62 L0.2,1" vector-effect="non-scaling-stroke"/><path transform="translate(5.845,-7.000) scale(7.306,7.000)" d="M0.3,0.46 C0.13,0.46 0.04,0.36 0.04,0.23 C0.04,0.1 0.15,0 0.3,0 C0.45,0 0.56,0.1 0.56,0.23 C0.56,0.36 0.47,0.46 0.3,0.46 C0.12,0.46 0,0.58 0,0.73 C0,0.9 0.13,1 0.3,1 C0.47,1 0.6,0.9 0.6,0.73 C0.6,0.58 0.48,0.46 0.3,0.46 Z" vector-effect="non-scaling-stroke"/><path transform="translate(11.690,-7.000) scale(7.306,7.000)" d="M0.1,0.88 L0.1,1" vector-effect="non-scaling-stroke"/><path transform="translate(14.978,-7.000) scale(7.306,7.000)" d="M0.56,0 H0.1 L0.05,0.44 C0.13,0.39 0.21,0.37 0.3,0.37 C0.48,0.37 0.6,0.5 0.6,0.68 C0.6,0.88 0.47,1 0.3,1 C0.18,1 0.07,0.95 0.01,0.86" vector-effect="non-scaling-stroke"/></g>
<line x1="401.5" y1="272.5" x2="491.5" y2="272.5" stroke="#000" stroke-width="1" />
<polygon points="401.5,272.5 406.5,271.2 406.5,273.8" fill="#000" stroke="#000" stroke-width="0.7" stroke-linejoin="round"/>
<polygon points="491.5,272.5 486.5,271.2 486.5,273.8" fill="#000" stroke="#000" stroke-width="0.7" stroke-linejoin="round"/>
<g transform="translate(434.70,272.20)" fill="none" stroke="#000" stroke-width="1.15" stroke-linecap="round" stroke-linejoin="round"><path transform="translate(0.000,-7.000) scale(6.581,7.000)" d="M0.12,0.2 L0.38,0 V1" vector-effect="non-scaling-stroke"/><path transform="translate(5.265,-7.000) scale(6.581,7.000)" d="M0.47,1 V0 L0,0.68 H0.64" vector-effect="non-scaling-stroke"/><path transform="translate(10.530,-7.000) scale(6.581,7.000)" d="M0.3,0 C0.06,0 0,0.3 0,0.5 C0,0.7 0.06,1 0.3,1 C0.54,1 0.6,0.7 0.6,0.5 C0.6,0.3 0.54,0 0.3,0 Z" vector-effect="non-scaling-stroke"/><path transform="translate(15.795,-7.000) scale(6.581,7.000)" d="M0.1,0.88 L0.1,1" vector-effect="non-scaling-stroke"/><path transform="translate(18.756,-7.000) scale(6.581,7.000)" d="M0.56,0 H0.1 L0.05,0.44 C0.13,0.39 0.21,0.37 0.3,0.37 C0.48,0.37 0.6,0.5 0.6,0.68 C0.6,0.88 0.47,1 0.3,1 C0.18,1 0.07,0.95 0.01,0.86" vector-effect="non-scaling-stroke"/></g>
<line x1="479" y1="216" x2="509" y2="243.5" stroke="#000" stroke-width="1" />
<line x1="509" y1="243.5" x2="545" y2="243.5" stroke="#000" stroke-width="1" />
<polygon points="484.00,220.50 488.35,222.40 486.34,224.63" fill="#000"/>
<polygon points="499.50,234.50 495.15,232.60 497.16,230.37" fill="#000"/>
<g transform="translate(509.80,242.20)" fill="none" stroke="#000" stroke-width="1.15" stroke-linecap="round" stroke-linejoin="round"><path transform="translate(0.000,-7.000) scale(7.874,7.000)" d="M0.56,0.1 C0.49,0.03 0.41,0 0.32,0 C0.1,0 0,0.25 0,0.58 C0,0.86 0.12,1 0.3,1 C0.48,1 0.6,0.87 0.6,0.68 C0.6,0.5 0.48,0.38 0.3,0.38 C0.15,0.38 0.03,0.47 0,0.62" vector-effect="non-scaling-stroke"/><path transform="translate(6.299,-7.000) scale(7.874,7.000)" d="M0.02,0.55 H0.55" vector-effect="non-scaling-stroke"/><path transform="translate(11.811,-7.000) scale(7.874,7.000)" d="M0.32,0.3 C0.12,0.3 0.02,0.45 0.02,0.65 C0.02,0.86 0.12,1 0.32,1 C0.52,1 0.62,0.86 0.62,0.65 C0.62,0.45 0.52,0.3 0.32,0.3 Z M0,1 L0.64,0.25" vector-effect="non-scaling-stroke"/><path transform="translate(18.504,-7.000) scale(7.874,7.000)" d="M0.03,0.24 C0.06,0.06 0.18,0 0.3,0 C0.46,0 0.58,0.1 0.58,0.27 C0.58,0.45 0.4,0.58 0,1 H0.62" vector-effect="non-scaling-stroke"/><path transform="translate(24.803,-7.000) scale(7.874,7.000)" d="M0.03,0.24 C0.06,0.06 0.18,0 0.3,0 C0.46,0 0.58,0.1 0.58,0.27 C0.58,0.45 0.4,0.58 0,1 H0.62" vector-effect="non-scaling-stroke"/></g>
<line x1="338.5" y1="292" x2="338.5" y2="353.5" stroke="#000" stroke-width="1" />
<line x1="591.5" y1="292" x2="591.5" y2="366.5" stroke="#000" stroke-width="1" />
<line x1="338.5" y1="300.5" x2="591.5" y2="300.5" stroke="#000" stroke-width="1" />
<polygon points="338.5,300 343.5,298.7 343.5,301.3" fill="#000" stroke="#000" stroke-width="0.7" stroke-linejoin="round"/>
<polygon points="591.5,300 586.5,298.7 586.5,301.3" fill="#000" stroke="#000" stroke-width="0.7" stroke-linejoin="round"/>
<g transform="translate(444.60,299.50)" fill="none" stroke="#000" stroke-width="1.15" stroke-linecap="round" stroke-linejoin="round"><path transform="translate(0.000,-6.650) scale(7.258,6.650)" d="M0,1 V0 L0.37,0.72 L0.74,0 V1" vector-effect="non-scaling-stroke"/><path transform="translate(6.895,-6.650) scale(7.258,6.650)" d="M0,1 L0.36,0 L0.72,1 M0.13,0.66 H0.59" vector-effect="non-scaling-stroke"/><path transform="translate(13.427,-6.650) scale(7.258,6.650)" d="M0,0 L0.66,1 M0.66,0 L0,1" vector-effect="non-scaling-stroke"/><path transform="translate(19.597,-6.650) scale(7.258,6.650)" d="M0.47,1 V0 L0,0.68 H0.64" vector-effect="non-scaling-stroke"/><path transform="translate(25.403,-6.650) scale(7.258,6.650)" d="M0.3,0 C0.06,0 0,0.3 0,0.5 C0,0.7 0.06,1 0.3,1 C0.54,1 0.6,0.7 0.6,0.5 C0.6,0.3 0.54,0 0.3,0 Z" vector-effect="non-scaling-stroke"/><path transform="translate(31.210,-6.650) scale(7.258,6.650)" d="M0.47,1 V0 L0,0.68 H0.64" vector-effect="non-scaling-stroke"/></g>
<g transform="translate(444.60,306.50)" fill="none" stroke="#000" stroke-width="1.15" stroke-linecap="round" stroke-linejoin="round"><path transform="translate(0.000,-6.650) scale(7.592,6.650)" d="M0,1 V0 L0.37,0.72 L0.74,0 V1" vector-effect="non-scaling-stroke"/><path transform="translate(7.213,-6.650) scale(7.592,6.650)" d="M0.2,0 V1" vector-effect="non-scaling-stroke"/><path transform="translate(11.009,-6.650) scale(7.592,6.650)" d="M0,1 V0 L0.64,1 V0" vector-effect="non-scaling-stroke"/><path transform="translate(17.842,-6.650) scale(7.592,6.650)" d="M0.04,0.1 C0.12,0.03 0.2,0 0.3,0 C0.46,0 0.57,0.1 0.57,0.24 C0.57,0.38 0.46,0.47 0.27,0.47 C0.5,0.47 0.6,0.58 0.6,0.73 C0.6,0.9 0.46,1 0.3,1 C0.18,1 0.08,0.96 0.01,0.87" vector-effect="non-scaling-stroke"/><path transform="translate(23.915,-6.650) scale(7.592,6.650)" d="M0.04,0.9 C0.11,0.97 0.19,1 0.28,1 C0.5,1 0.6,0.75 0.6,0.42 C0.6,0.14 0.48,0 0.3,0 C0.12,0 0,0.13 0,0.32 C0,0.5 0.12,0.62 0.3,0.62 C0.45,0.62 0.57,0.53 0.6,0.38" vector-effect="non-scaling-stroke"/><path transform="translate(29.989,-6.650) scale(7.592,6.650)" d="M0.47,1 V0 L0,0.68 H0.64" vector-effect="non-scaling-stroke"/></g>
<polyline points="373.5,403.5 373.5,326.5 519.5,326.5 519.5,403.5" fill="none" stroke="#000" stroke-width="1"/>
<line x1="390.5" y1="326.5" x2="390.5" y2="372.5" stroke="#000" stroke-width="1" />
<line x1="412.5" y1="326.5" x2="412.5" y2="372.5" stroke="#000" stroke-width="1" />
<line x1="440.5" y1="326.5" x2="440.5" y2="372.5" stroke="#000" stroke-width="1" />
<line x1="462.5" y1="326.5" x2="462.5" y2="372.5" stroke="#000" stroke-width="1" />
<line x1="480.5" y1="326.5" x2="480.5" y2="372.5" stroke="#000" stroke-width="1" />
<line x1="502.5" y1="326.5" x2="502.5" y2="372.5" stroke="#000" stroke-width="1" />
<line x1="373.5" y1="372.5" x2="519.5" y2="372.5" stroke="#000" stroke-width="1.3" />
<line x1="322.5" y1="373.5" x2="337" y2="373.5" stroke="#000" stroke-width="1" />
<line x1="347.5" y1="373.5" x2="600" y2="373.5" stroke="#333" stroke-width="1" stroke-dasharray="20.5 1.5 1.5 1.5" stroke-dashoffset="8"/>
<line x1="322.5" y1="403.5" x2="519.5" y2="403.5" stroke="#000" stroke-width="1" />
<path d="M373.5,340 Q373.5,343.5 370,343.5 H347.5 V403.5" fill="none" stroke="#000" stroke-width="1"/>
<path d="M347.5,353.5 H340.5 Q338,353.5 338,357 V360 Q338,363.5 340.5,363.5 Q338,363.5 338,367 V380 Q338,383.5 340.5,383.5 Q338,383.5 338,387 V389.5 Q338,393 340.5,393 H347.5 V353.5" fill="none" stroke="#000" stroke-width="1"/>
<line x1="340" y1="363.5" x2="347.5" y2="363.5" stroke="#000" stroke-width="1" />
<line x1="340" y1="383.5" x2="347.5" y2="383.5" stroke="#000" stroke-width="1" />
<line x1="326.5" y1="373.5" x2="326.5" y2="403.5" stroke="#000" stroke-width="1" />
<polygon points="326,373.5 324.7,378.5 327.3,378.5" fill="#000" stroke="#000" stroke-width="0.7" stroke-linejoin="round"/>
<polygon points="326,403.5 324.7,398.5 327.3,398.5" fill="#000" stroke="#000" stroke-width="0.7" stroke-linejoin="round"/>
<g transform="translate(326.00,394.50) rotate(-90)" fill="none" stroke="#000" stroke-width="1.15" stroke-linecap="round" stroke-linejoin="round"><path transform="translate(0.000,-7.500) scale(8.151,7.500)" d="M0.56,0 H0.1 L0.05,0.44 C0.13,0.39 0.21,0.37 0.3,0.37 C0.48,0.37 0.6,0.5 0.6,0.68 C0.6,0.88 0.47,1 0.3,1 C0.18,1 0.07,0.95 0.01,0.86" vector-effect="non-scaling-stroke"/><path transform="translate(6.521,-7.500) scale(8.151,7.500)" d="M0.3,0 C0.06,0 0,0.3 0,0.5 C0,0.7 0.06,1 0.3,1 C0.54,1 0.6,0.7 0.6,0.5 C0.6,0.3 0.54,0 0.3,0 Z" vector-effect="non-scaling-stroke"/></g>
<line x1="401.5" y1="365" x2="401.5" y2="410" stroke="#000" stroke-width="1" stroke-dasharray="10 2 2 2" stroke-dashoffset="0"/>
<line x1="451.5" y1="365" x2="451.5" y2="410" stroke="#000" stroke-width="1" stroke-dasharray="10 2 2 2" stroke-dashoffset="0"/>
<line x1="491.5" y1="365" x2="491.5" y2="410" stroke="#000" stroke-width="1" stroke-dasharray="10 2 2 2" stroke-dashoffset="0"/>
<rect x="425.5" y="375.5" width="42" height="25" rx="3" fill="none" stroke="#000" stroke-width="1"/>
<line x1="425" y1="377.5" x2="431" y2="377.5" stroke="#000" stroke-width="1.2" />
<line x1="428.5" y1="374.5" x2="428.5" y2="380.5" stroke="#000" stroke-width="1.2" />
<line x1="462.5" y1="377.5" x2="468.5" y2="377.5" stroke="#000" stroke-width="1.2" />
<line x1="465.5" y1="374.5" x2="465.5" y2="380.5" stroke="#000" stroke-width="1.2" />
<line x1="425" y1="398.5" x2="431" y2="398.5" stroke="#000" stroke-width="1.2" />
<line x1="428.5" y1="395.5" x2="428.5" y2="401.5" stroke="#000" stroke-width="1.2" />
<line x1="462.5" y1="398.5" x2="468.5" y2="398.5" stroke="#000" stroke-width="1.2" />
<line x1="465.5" y1="395.5" x2="465.5" y2="401.5" stroke="#000" stroke-width="1.2" />
<path d="M519.5,340 Q519.5,343.5 523,343.5 H545.5 V403.5 H519.5" fill="none" stroke="#000" stroke-width="1"/>
<path d="M545.5,353.5 H557.0 Q558.5,353.5 558.5,356.5 V360.8 Q558.5,363.8 557.0,363.8 Q559.5,363.8 559.5,366.8 V380.2 Q559.5,383.2 557.0,383.2 Q558.5,383.2 558.5,386.2 V390 Q558.5,393 557.0,393 H545.5" fill="none" stroke="#000" stroke-width="1"/>
<line x1="545.5" y1="363.5" x2="558.5" y2="363.5" stroke="#000" stroke-width="1" />
<line x1="545.5" y1="383.5" x2="558.5" y2="383.5" stroke="#000" stroke-width="1" />
<path d="M559.0,364.5 H567.5 Q569.5,364.5 569.5,366.5 V379.5 Q569.5,381.5 567.5,381.5 H559.0" fill="none" stroke="#000" stroke-width="1"/>
<line x1="559" y1="368.5" x2="569.5" y2="368.5" stroke="#000" stroke-width="1" />
<line x1="559" y1="377.5" x2="569.5" y2="377.5" stroke="#000" stroke-width="1" />
<line x1="569.5" y1="368.5" x2="581" y2="368.5" stroke="#000" stroke-width="1.6" />
<line x1="569.5" y1="377.5" x2="581" y2="377.5" stroke="#000" stroke-width="1.6" />
<path d="M581.5,343.5 Q581.5,341.5 584,341.5 Q591,344.5 591,352.5 V393.5 Q591,401.5 584,404.5 Q581.5,404.5 581.5,402.5 Z" fill="none" stroke="#000" stroke-width="1.1"/>
<line x1="580.5" y1="365.5" x2="580.5" y2="379.5" stroke="#000" stroke-width="2" />
<line x1="581.5" y1="366.5" x2="591" y2="366.5" stroke="#000" stroke-width="1" />
<line x1="581.5" y1="378.5" x2="591" y2="378.5" stroke="#000" stroke-width="1" />
<polygon points="595.5,373 590.5,370.6 590.5,375.4" fill="#000" stroke="#000" stroke-width="0.7" stroke-linejoin="round"/>
<line x1="76.5" y1="326.5" x2="253.5" y2="326.5" stroke="#000" stroke-width="1" />
<line x1="76.5" y1="326.5" x2="76.5" y2="360" stroke="#000" stroke-width="1" />
<line x1="82.5" y1="326.5" x2="82.5" y2="372.5" stroke="#000" stroke-width="1" />
<line x1="196.5" y1="326.5" x2="196.5" y2="372.5" stroke="#777" stroke-width="1" />
<line x1="202.5" y1="326.5" x2="202.5" y2="360" stroke="#000" stroke-width="1" />
<polyline points="60.5,372.5 60.5,360.5 79.5,360.5 79.5,372.5" fill="none" stroke="#000" stroke-width="1"/>
<polyline points="198.5,372.5 198.5,360.5 218.5,360.5 218.5,372.5" fill="none" stroke="#000" stroke-width="1"/>
<line x1="209.5" y1="360.5" x2="209.5" y2="372.5" stroke="#000" stroke-width="1" />
<line x1="43.5" y1="372.5" x2="220.5" y2="372.5" stroke="#000" stroke-width="1.3" />
<polyline points="58.5,372.5 58.5,403.5" fill="none" stroke="#000" stroke-width="1"/>
<line x1="220.5" y1="372.5" x2="220.5" y2="403.5" stroke="#000" stroke-width="1" />
<path d="M58.5,377 Q56,390 58.5,401" fill="none" stroke="#000" stroke-width="1"/>
<line x1="43.5" y1="403.5" x2="253.5" y2="403.5" stroke="#000" stroke-width="1.3" />
<line x1="43.5" y1="422.5" x2="214.5" y2="422.5" stroke="#000" stroke-width="1.3" />
<polyline points="64.5,403.5 64.5,422.5" fill="none" stroke="#000" stroke-width="1"/>
<polyline points="76.5,403.5 76.5,422.5" fill="none" stroke="#000" stroke-width="1"/>
<polyline points="202.5,403.5 202.5,422.5" fill="none" stroke="#000" stroke-width="1"/>
<polyline points="214.5,403.5 214.5,422.5" fill="none" stroke="#000" stroke-width="1"/>
<line x1="70.5" y1="360.5" x2="70.5" y2="372.5" stroke="#000" stroke-width="1" />
<line x1="70.5" y1="373" x2="70.5" y2="408" stroke="#222" stroke-width="1" stroke-dasharray="9 2 2 2" stroke-dashoffset="0"/>
<line x1="208.5" y1="373" x2="208.5" y2="408" stroke="#222" stroke-width="1" stroke-dasharray="9 2 2 2" stroke-dashoffset="0"/>
<line x1="46.5" y1="372.5" x2="46.5" y2="403.5" stroke="#000" stroke-width="1" />
<polygon points="46.5,372.5 45.2,377.5 47.8,377.5" fill="#000" stroke="#000" stroke-width="0.7" stroke-linejoin="round"/>
<polygon points="46.5,403.5 45.2,398.5 47.8,398.5" fill="#000" stroke="#000" stroke-width="0.7" stroke-linejoin="round"/>
<g transform="translate(46.00,393.00) rotate(-90)" fill="none" stroke="#000" stroke-width="1.15" stroke-linecap="round" stroke-linejoin="round"><path transform="translate(0.000,-7.300) scale(6.438,7.300)" d="M0.56,0 H0.1 L0.05,0.44 C0.13,0.39 0.21,0.37 0.3,0.37 C0.48,0.37 0.6,0.5 0.6,0.68 C0.6,0.88 0.47,1 0.3,1 C0.18,1 0.07,0.95 0.01,0.86" vector-effect="non-scaling-stroke"/><path transform="translate(5.151,-7.300) scale(6.438,7.300)" d="M0.12,0.2 L0.38,0 V1" vector-effect="non-scaling-stroke"/></g>
<line x1="46.5" y1="403.5" x2="46.5" y2="422.5" stroke="#000" stroke-width="1" />
<polygon points="46.5,403.5 45.2,408.5 47.8,408.5" fill="#000" stroke="#000" stroke-width="0.7" stroke-linejoin="round"/>
<polygon points="46.5,422.5 45.2,417.5 47.8,417.5" fill="#000" stroke="#000" stroke-width="0.7" stroke-linejoin="round"/>
<g transform="translate(46.00,418.30) rotate(-90)" fill="none" stroke="#000" stroke-width="1.15" stroke-linecap="round" stroke-linejoin="round"><path transform="translate(0.000,-7.300) scale(6.986,7.300)" d="M0.04,0.1 C0.12,0.03 0.2,0 0.3,0 C0.46,0 0.57,0.1 0.57,0.24 C0.57,0.38 0.46,0.47 0.27,0.47 C0.5,0.47 0.6,0.58 0.6,0.73 C0.6,0.9 0.46,1 0.3,1 C0.18,1 0.08,0.96 0.01,0.87" vector-effect="non-scaling-stroke"/><path transform="translate(5.589,-7.300) scale(6.986,7.300)" d="M0.3,0 C0.06,0 0,0.3 0,0.5 C0,0.7 0.06,1 0.3,1 C0.54,1 0.6,0.7 0.6,0.5 C0.6,0.3 0.54,0 0.3,0 Z" vector-effect="non-scaling-stroke"/></g>
<line x1="250.5" y1="326.5" x2="250.5" y2="403.5" stroke="#000" stroke-width="1" />
<polygon points="250.5,326.5 249.2,331.5 251.8,331.5" fill="#000" stroke="#000" stroke-width="0.7" stroke-linejoin="round"/>
<polygon points="250.5,403.5 249.2,398.5 251.8,398.5" fill="#000" stroke="#000" stroke-width="0.7" stroke-linejoin="round"/>
<g transform="translate(250.30,372.50) rotate(-90)" fill="none" stroke="#000" stroke-width="1.15" stroke-linecap="round" stroke-linejoin="round"><path transform="translate(0.000,-7.300) scale(6.726,7.300)" d="M0.12,0.2 L0.38,0 V1" vector-effect="non-scaling-stroke"/><path transform="translate(5.381,-7.300) scale(6.726,7.300)" d="M0.03,0.24 C0.06,0.06 0.18,0 0.3,0 C0.46,0 0.58,0.1 0.58,0.27 C0.58,0.45 0.4,0.58 0,1 H0.62" vector-effect="non-scaling-stroke"/><path transform="translate(10.761,-7.300) scale(6.726,7.300)" d="M0.56,0 H0.1 L0.05,0.44 C0.13,0.39 0.21,0.37 0.3,0.37 C0.48,0.37 0.6,0.5 0.6,0.68 C0.6,0.88 0.47,1 0.3,1 C0.18,1 0.07,0.95 0.01,0.86" vector-effect="non-scaling-stroke"/></g>
<line x1="139.5" y1="337.5" x2="139.5" y2="408.5" stroke="#000" stroke-width="1" />
<circle cx="139.5" cy="372.5" r="30" fill="none" stroke="#000" stroke-width="2"/>
<path d="M134.30,343.50 Q139.50,341.00 144.70,343.50 L147.30,352.00 Q153.65,358.35 160.00,364.70 L168.50,367.30 L168.50,367.30 Q171.00,372.50 168.50,377.70 L160.00,380.30 Q153.65,386.65 147.30,393.00 L144.70,401.50 L144.70,401.50 Q139.50,404.00 134.30,401.50 L131.70,393.00 Q125.35,386.65 119.00,380.30 L110.50,377.70 L110.50,377.70 Q108.00,372.50 110.50,367.30 L119.00,364.70 Q125.35,358.35 131.70,352.00 L134.30,343.50 Z" fill="#fff" stroke="#000" stroke-width="1.3"/>
<ellipse cx="154.35" cy="387.35" rx="8.5" ry="2" transform="rotate(135 154.35 387.35)" fill="none" stroke="#000" stroke-width="1.2"/>
<ellipse cx="154.35" cy="387.35" rx="1.5" ry="0.8" transform="rotate(135 154.35 387.35)" fill="none" stroke="#555" stroke-width="0.6"/>
<ellipse cx="124.65" cy="387.35" rx="8.5" ry="2" transform="rotate(225 124.65 387.35)" fill="none" stroke="#000" stroke-width="1.2"/>
<ellipse cx="124.65" cy="387.35" rx="1.5" ry="0.8" transform="rotate(225 124.65 387.35)" fill="none" stroke="#555" stroke-width="0.6"/>
<ellipse cx="124.65" cy="357.65" rx="8.5" ry="2" transform="rotate(315 124.65 357.65)" fill="none" stroke="#000" stroke-width="1.2"/>
<ellipse cx="124.65" cy="357.65" rx="1.5" ry="0.8" transform="rotate(315 124.65 357.65)" fill="none" stroke="#555" stroke-width="0.6"/>
<ellipse cx="154.35" cy="357.65" rx="8.5" ry="2" transform="rotate(405 154.35 357.65)" fill="none" stroke="#000" stroke-width="1.2"/>
<ellipse cx="154.35" cy="357.65" rx="1.5" ry="0.8" transform="rotate(405 154.35 357.65)" fill="none" stroke="#555" stroke-width="0.6"/>
<line x1="106.5" y1="372.5" x2="173.5" y2="372.5" stroke="#000" stroke-width="1.4" />
<line x1="139.5" y1="337.5" x2="139.5" y2="408.5" stroke="#000" stroke-width="1" />
<circle cx="139.5" cy="372.5" r="10.3" fill="#fff" stroke="#000" stroke-width="1.5"/>
<path d="M131.20,372.50 A8.3,8.3 0 0 1 135.99,364.98" fill="none" stroke="#000" stroke-width="3.2"/>
<path d="M143.01,364.98 A8.3,8.3 0 0 1 147.80,372.50" fill="none" stroke="#000" stroke-width="3.2"/>
<line x1="129.5" y1="372.7" x2="149.5" y2="372.7" stroke="#000" stroke-width="2.2" />
<circle cx="139.5" cy="372" r="3.3" fill="#000" stroke="#000" stroke-width="1"/>
<line x1="132.7" y1="377" x2="134.3" y2="377" stroke="#111" stroke-width="1.6" />
<line x1="135.2" y1="377" x2="136.8" y2="377" stroke="#111" stroke-width="1.6" />
<line x1="137.7" y1="377" x2="139.3" y2="377" stroke="#111" stroke-width="1.6" />
<line x1="140.2" y1="377" x2="141.8" y2="377" stroke="#111" stroke-width="1.6" />
<line x1="142.7" y1="377" x2="144.3" y2="377" stroke="#111" stroke-width="1.6" />
<line x1="145.2" y1="377" x2="146.8" y2="377" stroke="#111" stroke-width="1.6" />
<line x1="132.5" y1="379.5" x2="146.5" y2="379.5" stroke="#444" stroke-width="0.8" />
<line x1="139.5" y1="362.5" x2="139.5" y2="382.5" stroke="#000" stroke-width="1" />
<line x1="385.5" y1="419.5" x2="385.5" y2="598" stroke="#000" stroke-width="1.6" />
<line x1="385.5" y1="427.5" x2="512.5" y2="427.5" stroke="#000" stroke-width="1" />
<polygon points="385.5,427.5 390.5,426.2 390.5,428.8" fill="#000" stroke="#000" stroke-width="0.7" stroke-linejoin="round"/>
<polygon points="509.5,427.5 504.5,426.2 504.5,428.8" fill="#000" stroke="#000" stroke-width="0.7" stroke-linejoin="round"/>
<g transform="translate(435.20,426.40)" fill="none" stroke="#000" stroke-width="1.15" stroke-linecap="round" stroke-linejoin="round"><path transform="translate(0.000,-6.650) scale(7.236,6.650)" d="M0.12,0.2 L0.38,0 V1" vector-effect="non-scaling-stroke"/><path transform="translate(5.789,-6.650) scale(7.236,6.650)" d="M0.04,0.9 C0.11,0.97 0.19,1 0.28,1 C0.5,1 0.6,0.75 0.6,0.42 C0.6,0.14 0.48,0 0.3,0 C0.12,0 0,0.13 0,0.32 C0,0.5 0.12,0.62 0.3,0.62 C0.45,0.62 0.57,0.53 0.6,0.38" vector-effect="non-scaling-stroke"/><path transform="translate(11.578,-6.650) scale(7.236,6.650)" d="M0.47,1 V0 L0,0.68 H0.64" vector-effect="non-scaling-stroke"/><path transform="translate(17.368,-6.650) scale(7.236,6.650)" d="M0.1,0.88 L0.1,1" vector-effect="non-scaling-stroke"/><path transform="translate(20.624,-6.650) scale(7.236,6.650)" d="M0.04,0.1 C0.12,0.03 0.2,0 0.3,0 C0.46,0 0.57,0.1 0.57,0.24 C0.57,0.38 0.46,0.47 0.27,0.47 C0.5,0.47 0.6,0.58 0.6,0.73 C0.6,0.9 0.46,1 0.3,1 C0.18,1 0.08,0.96 0.01,0.87" vector-effect="non-scaling-stroke"/></g>
<line x1="385.5" y1="439.5" x2="510.5" y2="439.5" stroke="#000" stroke-width="1" />
<polygon points="385.5,439 390.5,437.7 390.5,440.3" fill="#000" stroke="#000" stroke-width="0.7" stroke-linejoin="round"/>
<polygon points="507.5,439 502.5,437.7 502.5,440.3" fill="#000" stroke="#000" stroke-width="0.7" stroke-linejoin="round"/>
<g transform="translate(434.30,438.60)" fill="none" stroke="#000" stroke-width="1.15" stroke-linecap="round" stroke-linejoin="round"><path transform="translate(0.000,-6.650) scale(7.009,6.650)" d="M0.12,0.2 L0.38,0 V1" vector-effect="non-scaling-stroke"/><path transform="translate(5.607,-6.650) scale(7.009,6.650)" d="M0.04,0.9 C0.11,0.97 0.19,1 0.28,1 C0.5,1 0.6,0.75 0.6,0.42 C0.6,0.14 0.48,0 0.3,0 C0.12,0 0,0.13 0,0.32 C0,0.5 0.12,0.62 0.3,0.62 C0.45,0.62 0.57,0.53 0.6,0.38" vector-effect="non-scaling-stroke"/><path transform="translate(11.214,-6.650) scale(7.009,6.650)" d="M0.3,0 C0.06,0 0,0.3 0,0.5 C0,0.7 0.06,1 0.3,1 C0.54,1 0.6,0.7 0.6,0.5 C0.6,0.3 0.54,0 0.3,0 Z" vector-effect="non-scaling-stroke"/><path transform="translate(16.821,-6.650) scale(7.009,6.650)" d="M0.1,0.88 L0.1,1" vector-effect="non-scaling-stroke"/><path transform="translate(19.974,-6.650) scale(7.009,6.650)" d="M0.56,0 H0.1 L0.05,0.44 C0.13,0.39 0.21,0.37 0.3,0.37 C0.48,0.37 0.6,0.5 0.6,0.68 C0.6,0.88 0.47,1 0.3,1 C0.18,1 0.07,0.95 0.01,0.86" vector-effect="non-scaling-stroke"/></g>
<line x1="385.5" y1="450.5" x2="496.5" y2="450.5" stroke="#000" stroke-width="1" />
<polygon points="385.5,450.5 390.5,449.2 390.5,451.8" fill="#000" stroke="#000" stroke-width="0.7" stroke-linejoin="round"/>
<polygon points="493.5,450.5 488.5,449.2 488.5,451.8" fill="#000" stroke="#000" stroke-width="0.7" stroke-linejoin="round"/>
<g transform="translate(426.40,449.60)" fill="none" stroke="#000" stroke-width="1.15" stroke-linecap="round" stroke-linejoin="round"><path transform="translate(0.000,-6.650) scale(7.322,6.650)" d="M0.12,0.2 L0.38,0 V1" vector-effect="non-scaling-stroke"/><path transform="translate(5.858,-6.650) scale(7.322,6.650)" d="M0.56,0.1 C0.49,0.03 0.41,0 0.32,0 C0.1,0 0,0.25 0,0.58 C0,0.86 0.12,1 0.3,1 C0.48,1 0.6,0.87 0.6,0.68 C0.6,0.5 0.48,0.38 0.3,0.38 C0.15,0.38 0.03,0.47 0,0.62" vector-effect="non-scaling-stroke"/><path transform="translate(11.715,-6.650) scale(7.322,6.650)" d="M0.3,0.46 C0.13,0.46 0.04,0.36 0.04,0.23 C0.04,0.1 0.15,0 0.3,0 C0.45,0 0.56,0.1 0.56,0.23 C0.56,0.36 0.47,0.46 0.3,0.46 C0.12,0.46 0,0.58 0,0.73 C0,0.9 0.13,1 0.3,1 C0.47,1 0.6,0.9 0.6,0.73 C0.6,0.58 0.48,0.46 0.3,0.46 Z" vector-effect="non-scaling-stroke"/><path transform="translate(17.573,-6.650) scale(7.322,6.650)" d="M0.1,0.88 L0.1,1" vector-effect="non-scaling-stroke"/><path transform="translate(20.868,-6.650) scale(7.322,6.650)" d="M0.04,0.1 C0.12,0.03 0.2,0 0.3,0 C0.46,0 0.57,0.1 0.57,0.24 C0.57,0.38 0.46,0.47 0.27,0.47 C0.5,0.47 0.6,0.58 0.6,0.73 C0.6,0.9 0.46,1 0.3,1 C0.18,1 0.08,0.96 0.01,0.87" vector-effect="non-scaling-stroke"/></g>
<line x1="385.5" y1="461.5" x2="483" y2="461.5" stroke="#000" stroke-width="1" />
<polygon points="385.5,461 390.5,459.7 390.5,462.3" fill="#000" stroke="#000" stroke-width="0.7" stroke-linejoin="round"/>
<polygon points="480,461 475,459.7 475,462.3" fill="#000" stroke="#000" stroke-width="0.7" stroke-linejoin="round"/>
<g transform="translate(420.00,460.60)" fill="none" stroke="#000" stroke-width="1.15" stroke-linecap="round" stroke-linejoin="round"><path transform="translate(0.000,-6.650) scale(7.208,6.650)" d="M0.12,0.2 L0.38,0 V1" vector-effect="non-scaling-stroke"/><path transform="translate(5.766,-6.650) scale(7.208,6.650)" d="M0.47,1 V0 L0,0.68 H0.64" vector-effect="non-scaling-stroke"/><path transform="translate(11.533,-6.650) scale(7.208,6.650)" d="M0,0 H0.62 L0.2,1" vector-effect="non-scaling-stroke"/><path transform="translate(17.299,-6.650) scale(7.208,6.650)" d="M0.1,0.88 L0.1,1" vector-effect="non-scaling-stroke"/><path transform="translate(20.543,-6.650) scale(7.208,6.650)" d="M0.56,0.1 C0.49,0.03 0.41,0 0.32,0 C0.1,0 0,0.25 0,0.58 C0,0.86 0.12,1 0.3,1 C0.48,1 0.6,0.87 0.6,0.68 C0.6,0.5 0.48,0.38 0.3,0.38 C0.15,0.38 0.03,0.47 0,0.62" vector-effect="non-scaling-stroke"/></g>
<line x1="385.5" y1="471.5" x2="461.5" y2="471.5" stroke="#000" stroke-width="1" />
<polygon points="385.5,471.5 390.5,470.2 390.5,472.8" fill="#000" stroke="#000" stroke-width="0.7" stroke-linejoin="round"/>
<polygon points="458.5,471.5 453.5,470.2 453.5,472.8" fill="#000" stroke="#000" stroke-width="0.7" stroke-linejoin="round"/>
<g transform="translate(410.60,470.80)" fill="none" stroke="#000" stroke-width="1.15" stroke-linecap="round" stroke-linejoin="round"><path transform="translate(0.000,-6.650) scale(6.524,6.650)" d="M0.12,0.2 L0.38,0 V1" vector-effect="non-scaling-stroke"/><path transform="translate(5.219,-6.650) scale(6.524,6.650)" d="M0.12,0.2 L0.38,0 V1" vector-effect="non-scaling-stroke"/><path transform="translate(10.439,-6.650) scale(6.524,6.650)" d="M0.47,1 V0 L0,0.68 H0.64" vector-effect="non-scaling-stroke"/><path transform="translate(15.658,-6.650) scale(6.524,6.650)" d="M0.1,0.88 L0.1,1" vector-effect="non-scaling-stroke"/><path transform="translate(18.594,-6.650) scale(6.524,6.650)" d="M0.04,0.1 C0.12,0.03 0.2,0 0.3,0 C0.46,0 0.57,0.1 0.57,0.24 C0.57,0.38 0.46,0.47 0.27,0.47 C0.5,0.47 0.6,0.58 0.6,0.73 C0.6,0.9 0.46,1 0.3,1 C0.18,1 0.08,0.96 0.01,0.87" vector-effect="non-scaling-stroke"/></g>
<line x1="385.5" y1="480.5" x2="441" y2="480.5" stroke="#000" stroke-width="1" />
<polygon points="385.5,480.5 390.5,479.2 390.5,481.8" fill="#000" stroke="#000" stroke-width="0.7" stroke-linejoin="round"/>
<polygon points="438,480.5 433,479.2 433,481.8" fill="#000" stroke="#000" stroke-width="0.7" stroke-linejoin="round"/>
<g transform="translate(401.50,480.00)" fill="none" stroke="#000" stroke-width="1.15" stroke-linecap="round" stroke-linejoin="round"><path transform="translate(0.000,-6.650) scale(7.491,6.650)" d="M0.3,0.46 C0.13,0.46 0.04,0.36 0.04,0.23 C0.04,0.1 0.15,0 0.3,0 C0.45,0 0.56,0.1 0.56,0.23 C0.56,0.36 0.47,0.46 0.3,0.46 C0.12,0.46 0,0.58 0,0.73 C0,0.9 0.13,1 0.3,1 C0.47,1 0.6,0.9 0.6,0.73 C0.6,0.58 0.48,0.46 0.3,0.46 Z" vector-effect="non-scaling-stroke"/><path transform="translate(5.993,-6.650) scale(7.491,6.650)" d="M0.03,0.24 C0.06,0.06 0.18,0 0.3,0 C0.46,0 0.58,0.1 0.58,0.27 C0.58,0.45 0.4,0.58 0,1 H0.62" vector-effect="non-scaling-stroke"/><path transform="translate(11.985,-6.650) scale(7.491,6.650)" d="M0.1,0.88 L0.1,1" vector-effect="non-scaling-stroke"/><path transform="translate(15.356,-6.650) scale(7.491,6.650)" d="M0.56,0 H0.1 L0.05,0.44 C0.13,0.39 0.21,0.37 0.3,0.37 C0.48,0.37 0.6,0.5 0.6,0.68 C0.6,0.88 0.47,1 0.3,1 C0.18,1 0.07,0.95 0.01,0.86" vector-effect="non-scaling-stroke"/></g>
<line x1="385.5" y1="490.5" x2="437.5" y2="490.5" stroke="#000" stroke-width="1" />
<polygon points="385.5,490.5 390.5,489.2 390.5,491.8" fill="#000" stroke="#000" stroke-width="0.7" stroke-linejoin="round"/>
<polygon points="434.5,490.5 429.5,489.2 429.5,491.8" fill="#000" stroke="#000" stroke-width="0.7" stroke-linejoin="round"/>
<g transform="translate(400.40,489.70)" fill="none" stroke="#000" stroke-width="1.15" stroke-linecap="round" stroke-linejoin="round"><path transform="translate(0.000,-6.650) scale(7.269,6.650)" d="M0,0 H0.62 L0.2,1" vector-effect="non-scaling-stroke"/><path transform="translate(5.815,-6.650) scale(7.269,6.650)" d="M0.56,0.1 C0.49,0.03 0.41,0 0.32,0 C0.1,0 0,0.25 0,0.58 C0,0.86 0.12,1 0.3,1 C0.48,1 0.6,0.87 0.6,0.68 C0.6,0.5 0.48,0.38 0.3,0.38 C0.15,0.38 0.03,0.47 0,0.62" vector-effect="non-scaling-stroke"/><path transform="translate(11.631,-6.650) scale(7.269,6.650)" d="M0.1,0.88 L0.1,1" vector-effect="non-scaling-stroke"/><path transform="translate(14.902,-6.650) scale(7.269,6.650)" d="M0.03,0.24 C0.06,0.06 0.18,0 0.3,0 C0.46,0 0.58,0.1 0.58,0.27 C0.58,0.45 0.4,0.58 0,1 H0.62" vector-effect="non-scaling-stroke"/></g>
<line x1="385.5" y1="500.5" x2="414.5" y2="500.5" stroke="#000" stroke-width="1" />
<polygon points="385.5,500 390.5,498.7 390.5,501.3" fill="#000" stroke="#000" stroke-width="0.7" stroke-linejoin="round"/>
<polygon points="411.5,500 406.5,498.7 406.5,501.3" fill="#000" stroke="#000" stroke-width="0.7" stroke-linejoin="round"/>
<g transform="translate(389.70,499.50)" fill="none" stroke="#000" stroke-width="1.15" stroke-linecap="round" stroke-linejoin="round"><path transform="translate(0.000,-6.650) scale(6.863,6.650)" d="M0.47,1 V0 L0,0.68 H0.64" vector-effect="non-scaling-stroke"/><path transform="translate(5.491,-6.650) scale(6.863,6.650)" d="M0.12,0.2 L0.38,0 V1" vector-effect="non-scaling-stroke"/><path transform="translate(10.982,-6.650) scale(6.863,6.650)" d="M0.1,0.88 L0.1,1" vector-effect="non-scaling-stroke"/><path transform="translate(14.070,-6.650) scale(6.863,6.650)" d="M0.04,0.1 C0.12,0.03 0.2,0 0.3,0 C0.46,0 0.57,0.1 0.57,0.24 C0.57,0.38 0.46,0.47 0.27,0.47 C0.5,0.47 0.6,0.58 0.6,0.73 C0.6,0.9 0.46,1 0.3,1 C0.18,1 0.08,0.96 0.01,0.87" vector-effect="non-scaling-stroke"/></g>
<line x1="385.5" y1="510.5" x2="404.5" y2="510.5" stroke="#000" stroke-width="1" />
<polygon points="385.5,510 390.5,508.7 390.5,511.3" fill="#000" stroke="#000" stroke-width="0.7" stroke-linejoin="round"/>
<polygon points="401.5,510 396.5,508.7 396.5,511.3" fill="#000" stroke="#000" stroke-width="0.7" stroke-linejoin="round"/>
<g transform="translate(387.40,509.30)" fill="none" stroke="#000" stroke-width="1.15" stroke-linecap="round" stroke-linejoin="round"><path transform="translate(0.000,-6.650) scale(8.151,6.650)" d="M0.03,0.24 C0.06,0.06 0.18,0 0.3,0 C0.46,0 0.58,0.1 0.58,0.27 C0.58,0.45 0.4,0.58 0,1 H0.62" vector-effect="non-scaling-stroke"/><path transform="translate(6.521,-6.650) scale(8.151,6.650)" d="M0.56,0 H0.1 L0.05,0.44 C0.13,0.39 0.21,0.37 0.3,0.37 C0.48,0.37 0.6,0.5 0.6,0.68 C0.6,0.88 0.47,1 0.3,1 C0.18,1 0.07,0.95 0.01,0.86" vector-effect="non-scaling-stroke"/></g>
<line x1="509.5" y1="419.5" x2="509.5" y2="570" stroke="#000" stroke-width="1" />
<line x1="507.5" y1="436" x2="507.5" y2="549" stroke="#000" stroke-width="1" />
<line x1="480.5" y1="458" x2="480.5" y2="637" stroke="#000" stroke-width="1" />
<line x1="458.5" y1="468" x2="458.5" y2="581" stroke="#000" stroke-width="1" />
<line x1="438.5" y1="477.5" x2="438.5" y2="637" stroke="#000" stroke-width="1" />
<line x1="434.5" y1="487.5" x2="434.5" y2="556" stroke="#000" stroke-width="1" />
<line x1="411.5" y1="497" x2="411.5" y2="581" stroke="#000" stroke-width="1" />
<line x1="401.5" y1="507" x2="401.5" y2="546" stroke="#000" stroke-width="1" />
<path d="M383.5,520.5 H509.5 A10,10 0 0 1 519.5,530.5 V667.5 A10,10 0 0 1 509.5,677.5 H383.5 A10,10 0 0 1 373.5,667.5 V530.5 A10,10 0 0 1 383.5,520.5 Z" fill="none" stroke="#000" stroke-width="1"/>
<path d="M373.5,545.0 A7.5,7.5 0 0 1 381,537.5 H392.04 A11.2,11.2 0 0 0 410.96,537.5 H442.04 A11.2,11.2 0 0 0 460.96,537.5 H482.04 A11.2,11.2 0 0 0 500.96,537.5 H512 A7.5,7.5 0 0 1 519.5,545.0" fill="none" stroke="#000" stroke-width="1"/>
<path d="M373.5,653.0 A7.5,7.5 0 0 0 381,660.5 H391.74 A11.2,11.2 0 0 1 411.26,660.5 H431.24 A11.2,11.2 0 0 1 450.76,660.5 H481.74 A11.2,11.2 0 0 1 501.26,660.5 H512 A7.5,7.5 0 0 0 519.5,653.0" fill="none" stroke="#000" stroke-width="1"/>
<path d="M373.5,566 Q373.5,569.5 370,569.5 H347.5 V628.5 H370 Q373.5,628.5 373.5,632" fill="none" stroke="#000" stroke-width="1"/>
<path d="M347.5,581.5 H340.5 Q338,581.5 338,584.5 V595.5 Q338,598.5 340.5,598.5 H347.5 M340.5,598.5 H340.5 Q338,598.5 338,601.5 V613.5 Q338,616.5 340.5,616.5 H347.5" fill="none" stroke="#000" stroke-width="1"/>
<path d="M519.5,566 Q519.5,569.5 523,569.5 H545.5 V628.5 H523 Q519.5,628.5 519.5,632" fill="none" stroke="#000" stroke-width="1"/>
<path d="M545.5,581.5 H557.5 Q559.0,583.0 559.0,585.5 V595.5 Q559.0,597.5 558.0,598.5 Q559.0,599.5 559.0,601.5 V612 Q559.0,614.5 557.5,616 H545.5" fill="none" stroke="#000" stroke-width="1"/>
<path d="M559.0,591.5 H567.5 Q569.5,591.5 569.5,593.5 V604.5 Q569.5,606.5 567.5,606.5 H559.0" fill="none" stroke="#000" stroke-width="1"/>
<line x1="559" y1="594.5" x2="569.5" y2="594.5" stroke="#000" stroke-width="1" />
<line x1="559" y1="603.5" x2="569.5" y2="603.5" stroke="#000" stroke-width="1" />
<line x1="569.5" y1="594" x2="581" y2="594" stroke="#000" stroke-width="1.6" />
<line x1="569.5" y1="603.5" x2="581" y2="603.5" stroke="#000" stroke-width="1.6" />
<path d="M581.5,569 Q581.5,567 584,567 Q591,570 591,578 V619 Q591,627 584,630 Q581.5,630 581.5,628 Z" fill="none" stroke="#000" stroke-width="1.1"/>
<line x1="580.5" y1="591.5" x2="580.5" y2="606.5" stroke="#000" stroke-width="2" />
<line x1="581.5" y1="592.5" x2="591" y2="592.5" stroke="#000" stroke-width="1" />
<line x1="581.5" y1="605.5" x2="591" y2="605.5" stroke="#000" stroke-width="1" />
<polygon points="595.5,598.5 590.5,596.1 590.5,600.9" fill="#000" stroke="#000" stroke-width="0.7" stroke-linejoin="round"/>
<line x1="304.5" y1="598.5" x2="600" y2="598.5" stroke="#333" stroke-width="1" stroke-dasharray="22.5 1.8 1.2 1.8" stroke-dashoffset="0"/>
<g transform="translate(536.00,600.50) rotate(-90)" fill="none" stroke="#000" stroke-width="1.15" stroke-linecap="round" stroke-linejoin="round"><path transform="translate(0.000,-6.000) scale(6.061,6.000)" d="M0,1 V0 H0.36 C0.54,0 0.64,0.1 0.64,0.27 C0.64,0.43 0.54,0.53 0.36,0.53 H0" vector-effect="non-scaling-stroke"/></g>
<line x1="264.5" y1="549.5" x2="395.5" y2="549.5" stroke="#000" stroke-width="1" />
<line x1="292" y1="531.5" x2="414.5" y2="531.5" stroke="#000" stroke-width="1" />
<line x1="330.5" y1="571.5" x2="427.5" y2="571.5" stroke="#000" stroke-width="1" />
<line x1="319.5" y1="577.5" x2="493.5" y2="577.5" stroke="#000" stroke-width="1" />
<line x1="289" y1="626.5" x2="426" y2="626.5" stroke="#000" stroke-width="1" />
<line x1="277" y1="630.5" x2="419" y2="630.5" stroke="#000" stroke-width="1" />
<line x1="264.5" y1="648.5" x2="395.5" y2="648.5" stroke="#000" stroke-width="1" />
<line x1="267.5" y1="549.5" x2="267.5" y2="648.5" stroke="#000" stroke-width="1" />
<polygon points="267.5,549.5 266.2,554.5 268.8,554.5" fill="#000" stroke="#000" stroke-width="0.7" stroke-linejoin="round"/>
<polygon points="267.5,648.5 266.2,643.5 268.8,643.5" fill="#000" stroke="#000" stroke-width="0.7" stroke-linejoin="round"/>
<g transform="translate(267.00,610.60) rotate(-90)" fill="none" stroke="#000" stroke-width="1.15" stroke-linecap="round" stroke-linejoin="round"><path transform="translate(0.000,-7.500) scale(6.724,7.500)" d="M0.12,0.2 L0.38,0 V1" vector-effect="non-scaling-stroke"/><path transform="translate(5.379,-7.500) scale(6.724,7.500)" d="M0.56,0 H0.1 L0.05,0.44 C0.13,0.39 0.21,0.37 0.3,0.37 C0.48,0.37 0.6,0.5 0.6,0.68 C0.6,0.88 0.47,1 0.3,1 C0.18,1 0.07,0.95 0.01,0.86" vector-effect="non-scaling-stroke"/><path transform="translate(10.758,-7.500) scale(6.724,7.500)" d="M0.3,0.46 C0.13,0.46 0.04,0.36 0.04,0.23 C0.04,0.1 0.15,0 0.3,0 C0.45,0 0.56,0.1 0.56,0.23 C0.56,0.36 0.47,0.46 0.3,0.46 C0.12,0.46 0,0.58 0,0.73 C0,0.9 0.13,1 0.3,1 C0.47,1 0.6,0.9 0.6,0.73 C0.6,0.58 0.48,0.46 0.3,0.46 Z" vector-effect="non-scaling-stroke"/><path transform="translate(16.137,-7.500) scale(6.724,7.500)" d="M0.1,0.88 L0.1,1" vector-effect="non-scaling-stroke"/><path transform="translate(19.162,-7.500) scale(6.724,7.500)" d="M0.3,0.46 C0.13,0.46 0.04,0.36 0.04,0.23 C0.04,0.1 0.15,0 0.3,0 C0.45,0 0.56,0.1 0.56,0.23 C0.56,0.36 0.47,0.46 0.3,0.46 C0.12,0.46 0,0.58 0,0.73 C0,0.9 0.13,1 0.3,1 C0.47,1 0.6,0.9 0.6,0.73 C0.6,0.58 0.48,0.46 0.3,0.46 Z" vector-effect="non-scaling-stroke"/></g>
<line x1="280.5" y1="549.5" x2="280.5" y2="630.5" stroke="#000" stroke-width="1" />
<polygon points="280.5,549.5 279.2,554.5 281.8,554.5" fill="#000" stroke="#000" stroke-width="0.7" stroke-linejoin="round"/>
<polygon points="280.5,630.5 279.2,625.5 281.8,625.5" fill="#000" stroke="#000" stroke-width="0.7" stroke-linejoin="round"/>
<g transform="translate(280.00,600.40) rotate(-90)" fill="none" stroke="#000" stroke-width="1.15" stroke-linecap="round" stroke-linejoin="round"><path transform="translate(0.000,-7.500) scale(6.097,7.500)" d="M0.12,0.2 L0.38,0 V1" vector-effect="non-scaling-stroke"/><path transform="translate(4.877,-7.500) scale(6.097,7.500)" d="M0.04,0.1 C0.12,0.03 0.2,0 0.3,0 C0.46,0 0.57,0.1 0.57,0.24 C0.57,0.38 0.46,0.47 0.27,0.47 C0.5,0.47 0.6,0.58 0.6,0.73 C0.6,0.9 0.46,1 0.3,1 C0.18,1 0.08,0.96 0.01,0.87" vector-effect="non-scaling-stroke"/><path transform="translate(9.755,-7.500) scale(6.097,7.500)" d="M0.3,0 C0.06,0 0,0.3 0,0.5 C0,0.7 0.06,1 0.3,1 C0.54,1 0.6,0.7 0.6,0.5 C0.6,0.3 0.54,0 0.3,0 Z" vector-effect="non-scaling-stroke"/><path transform="translate(14.632,-7.500) scale(6.097,7.500)" d="M0.1,0.88 L0.1,1" vector-effect="non-scaling-stroke"/><path transform="translate(17.376,-7.500) scale(6.097,7.500)" d="M0.03,0.24 C0.06,0.06 0.18,0 0.3,0 C0.46,0 0.58,0.1 0.58,0.27 C0.58,0.45 0.4,0.58 0,1 H0.62" vector-effect="non-scaling-stroke"/></g>
<line x1="292.5" y1="549.5" x2="292.5" y2="626.5" stroke="#000" stroke-width="1" />
<polygon points="292.5,549.5 291.2,554.5 293.8,554.5" fill="#000" stroke="#000" stroke-width="0.7" stroke-linejoin="round"/>
<polygon points="292.5,626.5 291.2,621.5 293.8,621.5" fill="#000" stroke="#000" stroke-width="0.7" stroke-linejoin="round"/>
<g transform="translate(292.00,599.40) rotate(-90)" fill="none" stroke="#000" stroke-width="1.15" stroke-linecap="round" stroke-linejoin="round"><path transform="translate(0.000,-7.500) scale(6.952,7.500)" d="M0.12,0.2 L0.38,0 V1" vector-effect="non-scaling-stroke"/><path transform="translate(5.561,-7.500) scale(6.952,7.500)" d="M0.03,0.24 C0.06,0.06 0.18,0 0.3,0 C0.46,0 0.58,0.1 0.58,0.27 C0.58,0.45 0.4,0.58 0,1 H0.62" vector-effect="non-scaling-stroke"/><path transform="translate(11.123,-7.500) scale(6.952,7.500)" d="M0.04,0.1 C0.12,0.03 0.2,0 0.3,0 C0.46,0 0.57,0.1 0.57,0.24 C0.57,0.38 0.46,0.47 0.27,0.47 C0.5,0.47 0.6,0.58 0.6,0.73 C0.6,0.9 0.46,1 0.3,1 C0.18,1 0.08,0.96 0.01,0.87" vector-effect="non-scaling-stroke"/><path transform="translate(16.684,-7.500) scale(6.952,7.500)" d="M0.1,0.88 L0.1,1" vector-effect="non-scaling-stroke"/><path transform="translate(19.812,-7.500) scale(6.952,7.500)" d="M0.3,0.46 C0.13,0.46 0.04,0.36 0.04,0.23 C0.04,0.1 0.15,0 0.3,0 C0.45,0 0.56,0.1 0.56,0.23 C0.56,0.36 0.47,0.46 0.3,0.46 C0.12,0.46 0,0.58 0,0.73 C0,0.9 0.13,1 0.3,1 C0.47,1 0.6,0.9 0.6,0.73 C0.6,0.58 0.48,0.46 0.3,0.46 Z" vector-effect="non-scaling-stroke"/></g>
<line x1="307.5" y1="549.5" x2="307.5" y2="598.5" stroke="#000" stroke-width="1" />
<polygon points="307,549.5 305.7,554.5 308.3,554.5" fill="#000" stroke="#000" stroke-width="0.7" stroke-linejoin="round"/>
<polygon points="307,598.5 305.7,593.5 308.3,593.5" fill="#000" stroke="#000" stroke-width="0.7" stroke-linejoin="round"/>
<g transform="translate(306.50,583.00) rotate(-90)" fill="none" stroke="#000" stroke-width="1.15" stroke-linecap="round" stroke-linejoin="round"><path transform="translate(0.000,-7.500) scale(7.860,7.500)" d="M0,0 H0.62 L0.2,1" vector-effect="non-scaling-stroke"/><path transform="translate(6.288,-7.500) scale(7.860,7.500)" d="M0.04,0.9 C0.11,0.97 0.19,1 0.28,1 C0.5,1 0.6,0.75 0.6,0.42 C0.6,0.14 0.48,0 0.3,0 C0.12,0 0,0.13 0,0.32 C0,0.5 0.12,0.62 0.3,0.62 C0.45,0.62 0.57,0.53 0.6,0.38" vector-effect="non-scaling-stroke"/><path transform="translate(12.576,-7.500) scale(7.860,7.500)" d="M0.1,0.88 L0.1,1" vector-effect="non-scaling-stroke"/><path transform="translate(16.113,-7.500) scale(7.860,7.500)" d="M0.47,1 V0 L0,0.68 H0.64" vector-effect="non-scaling-stroke"/></g>
<line x1="321.5" y1="549.5" x2="321.5" y2="577.5" stroke="#000" stroke-width="1" />
<polygon points="321.5,549.5 320.2,554.5 322.8,554.5" fill="#000" stroke="#000" stroke-width="0.7" stroke-linejoin="round"/>
<polygon points="321.5,577.5 320.2,572.5 322.8,572.5" fill="#000" stroke="#000" stroke-width="0.7" stroke-linejoin="round"/>
<g transform="translate(321.00,572.90) rotate(-90)" fill="none" stroke="#000" stroke-width="1.15" stroke-linecap="round" stroke-linejoin="round"><path transform="translate(0.000,-7.200) scale(6.753,7.200)" d="M0.47,1 V0 L0,0.68 H0.64" vector-effect="non-scaling-stroke"/><path transform="translate(5.402,-7.200) scale(6.753,7.200)" d="M0.47,1 V0 L0,0.68 H0.64" vector-effect="non-scaling-stroke"/><path transform="translate(10.804,-7.200) scale(6.753,7.200)" d="M0.1,0.88 L0.1,1" vector-effect="non-scaling-stroke"/><path transform="translate(13.843,-7.200) scale(6.753,7.200)" d="M0.56,0 H0.1 L0.05,0.44 C0.13,0.39 0.21,0.37 0.3,0.37 C0.48,0.37 0.6,0.5 0.6,0.68 C0.6,0.88 0.47,1 0.3,1 C0.18,1 0.07,0.95 0.01,0.86" vector-effect="non-scaling-stroke"/></g>
<line x1="334.5" y1="549.5" x2="334.5" y2="571.5" stroke="#000" stroke-width="1" />
<polygon points="334.5,549.5 333.2,554.5 335.8,554.5" fill="#000" stroke="#000" stroke-width="0.7" stroke-linejoin="round"/>
<polygon points="334.5,571.5 333.2,566.5 335.8,566.5" fill="#000" stroke="#000" stroke-width="0.7" stroke-linejoin="round"/>
<g transform="translate(334.00,565.80) rotate(-90)" fill="none" stroke="#000" stroke-width="1.15" stroke-linecap="round" stroke-linejoin="round"><path transform="translate(0.000,-7.500) scale(6.986,7.500)" d="M0.04,0.1 C0.12,0.03 0.2,0 0.3,0 C0.46,0 0.57,0.1 0.57,0.24 C0.57,0.38 0.46,0.47 0.27,0.47 C0.5,0.47 0.6,0.58 0.6,0.73 C0.6,0.9 0.46,1 0.3,1 C0.18,1 0.08,0.96 0.01,0.87" vector-effect="non-scaling-stroke"/><path transform="translate(5.589,-7.500) scale(6.986,7.500)" d="M0.56,0 H0.1 L0.05,0.44 C0.13,0.39 0.21,0.37 0.3,0.37 C0.48,0.37 0.6,0.5 0.6,0.68 C0.6,0.88 0.47,1 0.3,1 C0.18,1 0.07,0.95 0.01,0.86" vector-effect="non-scaling-stroke"/></g>
<line x1="292.5" y1="531.5" x2="292.5" y2="549.5" stroke="#000" stroke-width="1" />
<polygon points="292.5,531.5 291.2,535.5 293.8,535.5" fill="#000" stroke="#000" stroke-width="0.7" stroke-linejoin="round"/>
<g transform="translate(292.00,548.50) rotate(-90)" fill="none" stroke="#000" stroke-width="1.15" stroke-linecap="round" stroke-linejoin="round"><path transform="translate(0.000,-6.500) scale(6.273,6.500)" d="M0.03,0.24 C0.06,0.06 0.18,0 0.3,0 C0.46,0 0.58,0.1 0.58,0.27 C0.58,0.45 0.4,0.58 0,1 H0.62" vector-effect="non-scaling-stroke"/><path transform="translate(5.018,-6.500) scale(6.273,6.500)" d="M0.3,0.46 C0.13,0.46 0.04,0.36 0.04,0.23 C0.04,0.1 0.15,0 0.3,0 C0.45,0 0.56,0.1 0.56,0.23 C0.56,0.36 0.47,0.46 0.3,0.46 C0.12,0.46 0,0.58 0,0.73 C0,0.9 0.13,1 0.3,1 C0.47,1 0.6,0.9 0.6,0.73 C0.6,0.58 0.48,0.46 0.3,0.46 Z" vector-effect="non-scaling-stroke"/><path transform="translate(10.037,-6.500) scale(6.273,6.500)" d="M0.1,0.88 L0.1,1" vector-effect="non-scaling-stroke"/><path transform="translate(12.860,-6.500) scale(6.273,6.500)" d="M0.56,0.1 C0.49,0.03 0.41,0 0.32,0 C0.1,0 0,0.25 0,0.58 C0,0.86 0.12,1 0.3,1 C0.48,1 0.6,0.87 0.6,0.68 C0.6,0.5 0.48,0.38 0.3,0.38 C0.15,0.38 0.03,0.47 0,0.62" vector-effect="non-scaling-stroke"/></g>
<circle cx="401.5" cy="531.5" r="10" fill="none" stroke="#000" stroke-width="1"/>
<circle cx="401.5" cy="531.5" r="7.4" fill="none" stroke="#000" stroke-width="1.2"/>
<line x1="388.5" y1="531.5" x2="399.5" y2="531.5" stroke="#333" stroke-width="1" />
<line x1="403.5" y1="531.5" x2="414.5" y2="531.5" stroke="#333" stroke-width="1" />
<line x1="401.5" y1="519.5" x2="401.5" y2="529.5" stroke="#333" stroke-width="1" />
<line x1="401.5" y1="533.5" x2="401.5" y2="543.5" stroke="#333" stroke-width="1" />
<circle cx="451.5" cy="531.5" r="10" fill="none" stroke="#000" stroke-width="1"/>
<circle cx="451.5" cy="531.5" r="7.4" fill="none" stroke="#000" stroke-width="1.2"/>
<line x1="438.5" y1="531.5" x2="449.5" y2="531.5" stroke="#333" stroke-width="1" />
<line x1="453.5" y1="531.5" x2="464.5" y2="531.5" stroke="#333" stroke-width="1" />
<line x1="451.5" y1="519.5" x2="451.5" y2="529.5" stroke="#333" stroke-width="1" />
<line x1="451.5" y1="533.5" x2="451.5" y2="543.5" stroke="#333" stroke-width="1" />
<circle cx="491.5" cy="531.5" r="10" fill="none" stroke="#000" stroke-width="1"/>
<circle cx="491.5" cy="531.5" r="7.4" fill="none" stroke="#000" stroke-width="1.2"/>
<line x1="478.5" y1="531.5" x2="489.5" y2="531.5" stroke="#333" stroke-width="1" />
<line x1="493.5" y1="531.5" x2="504.5" y2="531.5" stroke="#333" stroke-width="1" />
<line x1="491.5" y1="519.5" x2="491.5" y2="529.5" stroke="#333" stroke-width="1" />
<line x1="491.5" y1="533.5" x2="491.5" y2="543.5" stroke="#333" stroke-width="1" />
<circle cx="401.5" cy="666" r="10" fill="none" stroke="#000" stroke-width="1"/>
<circle cx="401.5" cy="666" r="7.4" fill="none" stroke="#000" stroke-width="1.2"/>
<line x1="388.5" y1="666.5" x2="399.5" y2="666.5" stroke="#333" stroke-width="1" />
<line x1="403.5" y1="666.5" x2="414.5" y2="666.5" stroke="#333" stroke-width="1" />
<line x1="401.5" y1="654" x2="401.5" y2="664" stroke="#333" stroke-width="1" />
<line x1="401.5" y1="668" x2="401.5" y2="678" stroke="#333" stroke-width="1" />
<circle cx="441" cy="666" r="10" fill="none" stroke="#000" stroke-width="1"/>
<circle cx="441" cy="666" r="7.4" fill="none" stroke="#000" stroke-width="1.2"/>
<line x1="428" y1="666.5" x2="439" y2="666.5" stroke="#333" stroke-width="1" />
<line x1="443" y1="666.5" x2="454" y2="666.5" stroke="#333" stroke-width="1" />
<line x1="441.5" y1="654" x2="441.5" y2="664" stroke="#333" stroke-width="1" />
<line x1="441.5" y1="668" x2="441.5" y2="678" stroke="#333" stroke-width="1" />
<circle cx="491.5" cy="666" r="10" fill="none" stroke="#000" stroke-width="1"/>
<circle cx="491.5" cy="666" r="7.4" fill="none" stroke="#000" stroke-width="1.2"/>
<line x1="478.5" y1="666.5" x2="489.5" y2="666.5" stroke="#333" stroke-width="1" />
<line x1="493.5" y1="666.5" x2="504.5" y2="666.5" stroke="#333" stroke-width="1" />
<line x1="491.5" y1="654" x2="491.5" y2="664" stroke="#333" stroke-width="1" />
<line x1="491.5" y1="668" x2="491.5" y2="678" stroke="#333" stroke-width="1" />
<circle cx="385.5" cy="549.5" r="5.8" fill="none" stroke="#000" stroke-width="1.6"/>
<line x1="376.5" y1="549.5" x2="383.5" y2="549.5" stroke="#000" stroke-width="1" />
<line x1="387.5" y1="549.5" x2="394.5" y2="549.5" stroke="#000" stroke-width="1" />
<line x1="385.5" y1="540.5" x2="385.5" y2="547.5" stroke="#000" stroke-width="1" />
<line x1="385.5" y1="551.5" x2="385.5" y2="558.5" stroke="#000" stroke-width="1" />
<circle cx="434.5" cy="549.5" r="5.8" fill="none" stroke="#000" stroke-width="1.6"/>
<line x1="425.5" y1="549.5" x2="432.5" y2="549.5" stroke="#000" stroke-width="1" />
<line x1="436.5" y1="549.5" x2="443.5" y2="549.5" stroke="#000" stroke-width="1" />
<line x1="434.5" y1="540.5" x2="434.5" y2="547.5" stroke="#000" stroke-width="1" />
<line x1="434.5" y1="551.5" x2="434.5" y2="558.5" stroke="#000" stroke-width="1" />
<circle cx="507.5" cy="549.5" r="5.8" fill="none" stroke="#000" stroke-width="1.6"/>
<line x1="498.5" y1="549.5" x2="505.5" y2="549.5" stroke="#000" stroke-width="1" />
<line x1="509.5" y1="549.5" x2="516.5" y2="549.5" stroke="#000" stroke-width="1" />
<line x1="507.5" y1="540.5" x2="507.5" y2="547.5" stroke="#000" stroke-width="1" />
<line x1="507.5" y1="551.5" x2="507.5" y2="558.5" stroke="#000" stroke-width="1" />
<circle cx="385.5" cy="648.5" r="5.8" fill="none" stroke="#000" stroke-width="1.6"/>
<line x1="376.5" y1="648.5" x2="383.5" y2="648.5" stroke="#000" stroke-width="1" />
<line x1="387.5" y1="648.5" x2="394.5" y2="648.5" stroke="#000" stroke-width="1" />
<line x1="385.5" y1="639.5" x2="385.5" y2="646.5" stroke="#000" stroke-width="1" />
<line x1="385.5" y1="650.5" x2="385.5" y2="657.5" stroke="#000" stroke-width="1" />
<circle cx="458.5" cy="648.5" r="5.8" fill="none" stroke="#000" stroke-width="1.6"/>
<line x1="449.5" y1="648.5" x2="456.5" y2="648.5" stroke="#000" stroke-width="1" />
<line x1="460.5" y1="648.5" x2="467.5" y2="648.5" stroke="#000" stroke-width="1" />
<line x1="458.5" y1="639.5" x2="458.5" y2="646.5" stroke="#000" stroke-width="1" />
<line x1="458.5" y1="650.5" x2="458.5" y2="657.5" stroke="#000" stroke-width="1" />
<circle cx="507.5" cy="648.5" r="5.8" fill="none" stroke="#000" stroke-width="1.6"/>
<line x1="498.5" y1="648.5" x2="505.5" y2="648.5" stroke="#000" stroke-width="1" />
<line x1="509.5" y1="648.5" x2="516.5" y2="648.5" stroke="#000" stroke-width="1" />
<line x1="507.5" y1="639.5" x2="507.5" y2="646.5" stroke="#000" stroke-width="1" />
<line x1="507.5" y1="650.5" x2="507.5" y2="657.5" stroke="#000" stroke-width="1" />
<circle cx="411.5" cy="571.5" r="10.5" fill="none" stroke="#000" stroke-width="1"/>
<line x1="397.5" y1="571.5" x2="409.5" y2="571.5" stroke="#333" stroke-width="1" />
<line x1="413.5" y1="571.5" x2="425.5" y2="571.5" stroke="#333" stroke-width="1" />
<line x1="411.5" y1="557.5" x2="411.5" y2="569.5" stroke="#333" stroke-width="1" />
<line x1="411.5" y1="573.5" x2="411.5" y2="585.5" stroke="#333" stroke-width="1" />
<circle cx="458.5" cy="571.5" r="10.5" fill="none" stroke="#000" stroke-width="1"/>
<line x1="444.5" y1="571.5" x2="456.5" y2="571.5" stroke="#333" stroke-width="1" />
<line x1="460.5" y1="571.5" x2="472.5" y2="571.5" stroke="#333" stroke-width="1" />
<line x1="458.5" y1="557.5" x2="458.5" y2="569.5" stroke="#333" stroke-width="1" />
<line x1="458.5" y1="573.5" x2="458.5" y2="585.5" stroke="#333" stroke-width="1" />
<circle cx="438" cy="626.5" r="10.5" fill="none" stroke="#000" stroke-width="1"/>
<line x1="424" y1="626.5" x2="436" y2="626.5" stroke="#333" stroke-width="1" />
<line x1="440" y1="626.5" x2="452" y2="626.5" stroke="#333" stroke-width="1" />
<line x1="438.5" y1="612.5" x2="438.5" y2="624.5" stroke="#333" stroke-width="1" />
<line x1="438.5" y1="628.5" x2="438.5" y2="640.5" stroke="#333" stroke-width="1" />
<circle cx="480" cy="626.5" r="10.5" fill="none" stroke="#000" stroke-width="1"/>
<line x1="466" y1="626.5" x2="478" y2="626.5" stroke="#333" stroke-width="1" />
<line x1="482" y1="626.5" x2="494" y2="626.5" stroke="#333" stroke-width="1" />
<line x1="480.5" y1="612.5" x2="480.5" y2="624.5" stroke="#333" stroke-width="1" />
<line x1="480.5" y1="628.5" x2="480.5" y2="640.5" stroke="#333" stroke-width="1" />
<circle cx="493.5" cy="577.5" r="3.5" fill="none" stroke="#000" stroke-width="1"/>
<line x1="493.5" y1="577.5" x2="499" y2="577.5" stroke="#000" stroke-width="1" />
<line x1="493.5" y1="447" x2="493.5" y2="583.5" stroke="#000" stroke-width="1" />
<circle cx="509.5" cy="570.5" r="4.5" fill="none" stroke="#000" stroke-width="2"/>
<circle cx="509.5" cy="570.5" r="2" fill="#000" stroke="#000" stroke-width="1"/>
<line x1="503" y1="570.5" x2="516" y2="570.5" stroke="#000" stroke-width="1" />
<line x1="509.5" y1="564" x2="509.5" y2="577" stroke="#000" stroke-width="1" />
<circle cx="383.5" cy="626.5" r="5.3" fill="none" stroke="#000" stroke-width="2"/>
<circle cx="383.5" cy="626.5" r="2.2" fill="#000" stroke="#000" stroke-width="1"/>
<line x1="377" y1="626.5" x2="390" y2="626.5" stroke="#000" stroke-width="1" />
<line x1="383.5" y1="620" x2="383.5" y2="633" stroke="#000" stroke-width="1" />
<line x1="383.5" y1="583" x2="383.5" y2="620" stroke="#000" stroke-width="1" />
<circle cx="412" cy="630.5" r="3.6" fill="none" stroke="#000" stroke-width="1"/>
<line x1="406" y1="630.5" x2="418" y2="630.5" stroke="#000" stroke-width="1" />
<line x1="412.5" y1="624" x2="412.5" y2="637" stroke="#000" stroke-width="1" />
<polygon points="428.5,680 426.5,677 430.5,677" fill="#000" stroke="#000" stroke-width="0.7" stroke-linejoin="round"/>
<polygon points="465,680 463,677 467,677" fill="#000" stroke="#000" stroke-width="0.7" stroke-linejoin="round"/>
<line x1="493.3" y1="560" x2="546" y2="521.5" stroke="#000" stroke-width="1" />
<line x1="546" y1="521.5" x2="570" y2="521.5" stroke="#000" stroke-width="1" />
<polygon points="498.50,556.20 501.31,552.42 502.96,554.68" fill="#000"/>
<polygon points="516.00,543.40 513.19,547.18 511.54,544.92" fill="#000"/>
<g transform="translate(546.00,521.20)" fill="none" stroke="#000" stroke-width="1.15" stroke-linecap="round" stroke-linejoin="round"><path transform="translate(0.000,-5.600) scale(6.138,5.600)" d="M0.56,0.1 C0.49,0.03 0.41,0 0.32,0 C0.1,0 0,0.25 0,0.58 C0,0.86 0.12,1 0.3,1 C0.48,1 0.6,0.87 0.6,0.68 C0.6,0.5 0.48,0.38 0.3,0.38 C0.15,0.38 0.03,0.47 0,0.62" vector-effect="non-scaling-stroke"/><path transform="translate(4.910,-5.600) scale(6.138,5.600)" d="M0.02,0.55 H0.55" vector-effect="non-scaling-stroke"/><path transform="translate(9.207,-5.600) scale(6.138,5.600)" d="M0,1 V0 L0.37,0.72 L0.74,0 V1" vector-effect="non-scaling-stroke"/><path transform="translate(15.038,-5.600) scale(6.138,5.600)" d="M0.03,0.24 C0.06,0.06 0.18,0 0.3,0 C0.46,0 0.58,0.1 0.58,0.27 C0.58,0.45 0.4,0.58 0,1 H0.62" vector-effect="non-scaling-stroke"/><path transform="translate(19.949,-5.600) scale(6.138,5.600)" d="M0.3,0 C0.06,0 0,0.3 0,0.5 C0,0.7 0.06,1 0.3,1 C0.54,1 0.6,0.7 0.6,0.5 C0.6,0.3 0.54,0 0.3,0 Z" vector-effect="non-scaling-stroke"/></g>
<line x1="497.9" y1="581" x2="544.4" y2="544.5" stroke="#000" stroke-width="1" />
<line x1="544.4" y1="544.5" x2="564" y2="544.5" stroke="#000" stroke-width="1" />
<polygon points="502.50,577.40 505.18,573.52 506.90,575.72" fill="#000"/>
<polygon points="516.00,566.80 513.32,570.68 511.60,568.48" fill="#000"/>
<g transform="translate(544.70,543.80)" fill="none" stroke="#000" stroke-width="1.15" stroke-linecap="round" stroke-linejoin="round"><path transform="translate(0.000,-5.600) scale(6.334,5.600)" d="M0.03,0.24 C0.06,0.06 0.18,0 0.3,0 C0.46,0 0.58,0.1 0.58,0.27 C0.58,0.45 0.4,0.58 0,1 H0.62" vector-effect="non-scaling-stroke"/><path transform="translate(5.068,-5.600) scale(6.334,5.600)" d="M0.02,0.55 H0.55" vector-effect="non-scaling-stroke"/><path transform="translate(9.502,-5.600) scale(6.334,5.600)" d="M0,1 V0 L0.37,0.72 L0.74,0 V1" vector-effect="non-scaling-stroke"/><path transform="translate(15.519,-5.600) scale(6.334,5.600)" d="M0.3,0.46 C0.13,0.46 0.04,0.36 0.04,0.23 C0.04,0.1 0.15,0 0.3,0 C0.45,0 0.56,0.1 0.56,0.23 C0.56,0.36 0.47,0.46 0.3,0.46 C0.12,0.46 0,0.58 0,0.73 C0,0.9 0.13,1 0.3,1 C0.47,1 0.6,0.9 0.6,0.73 C0.6,0.58 0.48,0.46 0.3,0.46 Z" vector-effect="non-scaling-stroke"/></g>
<line x1="471" y1="644.5" x2="488.7" y2="608.5" stroke="#000" stroke-width="1" />
<line x1="488.7" y1="608.5" x2="514" y2="608.5" stroke="#000" stroke-width="1" />
<polygon points="474.50,637.30 475.22,632.64 477.74,633.88" fill="#000"/>
<polygon points="485.80,614.50 485.08,619.16 482.56,617.92" fill="#000"/>
<g transform="translate(489.40,607.70)" fill="none" stroke="#000" stroke-width="1.15" stroke-linecap="round" stroke-linejoin="round"><path transform="translate(0.000,-5.740) scale(6.667,5.740)" d="M0.47,1 V0 L0,0.68 H0.64" vector-effect="non-scaling-stroke"/><path transform="translate(5.333,-5.740) scale(6.667,5.740)" d="M0.02,0.55 H0.55" vector-effect="non-scaling-stroke"/><path transform="translate(10.000,-5.740) scale(6.667,5.740)" d="M0.32,0.3 C0.12,0.3 0.02,0.45 0.02,0.65 C0.02,0.86 0.12,1 0.32,1 C0.52,1 0.62,0.86 0.62,0.65 C0.62,0.45 0.52,0.3 0.32,0.3 Z M0,1 L0.64,0.25" vector-effect="non-scaling-stroke"/><path transform="translate(15.667,-5.740) scale(6.667,5.740)" d="M0.04,0.1 C0.12,0.03 0.2,0 0.3,0 C0.46,0 0.57,0.1 0.57,0.24 C0.57,0.38 0.46,0.47 0.27,0.47 C0.5,0.47 0.6,0.58 0.6,0.73 C0.6,0.9 0.46,1 0.3,1 C0.18,1 0.08,0.96 0.01,0.87" vector-effect="non-scaling-stroke"/><path transform="translate(21.000,-5.740) scale(6.667,5.740)" d="M0.04,0.1 C0.12,0.03 0.2,0 0.3,0 C0.46,0 0.57,0.1 0.57,0.24 C0.57,0.38 0.46,0.47 0.27,0.47 C0.5,0.47 0.6,0.58 0.6,0.73 C0.6,0.9 0.46,1 0.3,1 C0.18,1 0.08,0.96 0.01,0.87" vector-effect="non-scaling-stroke"/></g>
<line x1="394" y1="617.5" x2="410" y2="617.5" stroke="#000" stroke-width="1" />
<path d="M410,617.5 Q412.3,619 412.3,624 V643.5" fill="none" stroke="#000" stroke-width="1"/>
<polygon points="412.3,626 411.1,623 413.5,623" fill="#000" stroke="#000" stroke-width="0.7" stroke-linejoin="round"/>
<polygon points="412.3,635 411.1,638 413.5,638" fill="#000" stroke="#000" stroke-width="0.7" stroke-linejoin="round"/>
<g transform="translate(393.70,617.00)" fill="none" stroke="#000" stroke-width="1.15" stroke-linecap="round" stroke-linejoin="round"><path transform="translate(0.000,-5.600) scale(4.278,5.600)" d="M0.03,0.24 C0.06,0.06 0.18,0 0.3,0 C0.46,0 0.58,0.1 0.58,0.27 C0.58,0.45 0.4,0.58 0,1 H0.62" vector-effect="non-scaling-stroke"/><path transform="translate(3.423,-5.600) scale(4.278,5.600)" d="M0.02,0.55 H0.55" vector-effect="non-scaling-stroke"/><path transform="translate(6.417,-5.600) scale(4.278,5.600)" d="M0.32,0.3 C0.12,0.3 0.02,0.45 0.02,0.65 C0.02,0.86 0.12,1 0.32,1 C0.52,1 0.62,0.86 0.62,0.65 C0.62,0.45 0.52,0.3 0.32,0.3 Z M0,1 L0.64,0.25" vector-effect="non-scaling-stroke"/><path transform="translate(10.054,-5.600) scale(4.278,5.600)" d="M0.12,0.2 L0.38,0 V1" vector-effect="non-scaling-stroke"/><path transform="translate(13.476,-5.600) scale(4.278,5.600)" d="M0.12,0.2 L0.38,0 V1" vector-effect="non-scaling-stroke"/></g>
<line x1="374" y1="590.5" x2="394.5" y2="590.5" stroke="#000" stroke-width="1" />
<polygon points="380,590 377,588.7 377,591.3" fill="#000" stroke="#000" stroke-width="0.7" stroke-linejoin="round"/>
<polygon points="388,590 391,588.7 391,591.3" fill="#000" stroke="#000" stroke-width="0.7" stroke-linejoin="round"/>
<g transform="translate(366.50,589.50)" fill="none" stroke="#000" stroke-width="1.15" stroke-linecap="round" stroke-linejoin="round"><path transform="translate(0.000,-4.200) scale(4.795,4.200)" d="M0.03,0.24 C0.06,0.06 0.18,0 0.3,0 C0.46,0 0.58,0.1 0.58,0.27 C0.58,0.45 0.4,0.58 0,1 H0.62" vector-effect="non-scaling-stroke"/><path transform="translate(3.836,-4.200) scale(4.795,4.200)" d="M0.56,0 H0.1 L0.05,0.44 C0.13,0.39 0.21,0.37 0.3,0.37 C0.48,0.37 0.6,0.5 0.6,0.68 C0.6,0.88 0.47,1 0.3,1 C0.18,1 0.07,0.95 0.01,0.86" vector-effect="non-scaling-stroke"/></g>
<polygon points="360,599 364,597.8 364,600.2" fill="#000" stroke="#000" stroke-width="0.7" stroke-linejoin="round"/>
<path transform="translate(443.000,125.500) scale(5.556,5.300)" d="M0,1 L0.36,0 L0.72,1 M0.13,0.66 H0.59" vector-effect="non-scaling-stroke" fill="none" stroke="#000" stroke-width="1.25" stroke-linecap="round" stroke-linejoin="round"/>
<path transform="translate(483.300,125.500) scale(5.873,5.300)" d="M0,1 V0 H0.33 C0.5,0 0.58,0.1 0.58,0.24 C0.58,0.38 0.5,0.47 0.33,0.47 H0 M0.33,0.47 C0.52,0.47 0.63,0.58 0.63,0.73 C0.63,0.9 0.52,1 0.33,1 H0" vector-effect="non-scaling-stroke" fill="none" stroke="#000" stroke-width="1.25" stroke-linecap="round" stroke-linejoin="round"/>
<path transform="translate(414.000,182.500) scale(6.034,5.000)" d="M0,0 V1 H0.58" vector-effect="non-scaling-stroke" fill="none" stroke="#000" stroke-width="1.25" stroke-linecap="round" stroke-linejoin="round"/>
<path transform="translate(460.300,182.500) scale(5.000,4.500)" d="M0,1 V0 H0.36 C0.54,0 0.64,0.1 0.64,0.27 C0.64,0.43 0.54,0.53 0.36,0.53 H0" vector-effect="non-scaling-stroke" fill="none" stroke="#000" stroke-width="1.25" stroke-linecap="round" stroke-linejoin="round"/>
<path transform="translate(399.200,123.300) scale(4.828,4.700)" d="M0,0 V1 H0.58" vector-effect="non-scaling-stroke" fill="none" stroke="#000" stroke-width="1.25" stroke-linecap="round" stroke-linejoin="round"/>
<path transform="translate(500.300,189.400) scale(4.091,4.600)" d="M0,0 H0.66 M0.33,0 V1" vector-effect="non-scaling-stroke" fill="none" stroke="#000" stroke-width="1.25" stroke-linecap="round" stroke-linejoin="round"/>
<line x1="426.00" y1="528.30" x2="426.00" y2="533.30" stroke="#000" stroke-width="1.25" stroke-linecap="round"/>
<path transform="translate(470.897,528.800) scale(5.172,5.000)" d="M0.6,0 V1 M0.6,0.6 C0.55,0.45 0.45,0.38 0.32,0.38 C0.12,0.38 0.02,0.52 0.02,0.69 C0.02,0.88 0.12,1 0.32,1 C0.45,1 0.55,0.93 0.6,0.8" vector-effect="non-scaling-stroke" fill="none" stroke="#000" stroke-width="1.25" stroke-linecap="round" stroke-linejoin="round"/>
<path transform="translate(412.708,565.800) scale(10.769,5.000)" d="M0.12,0.2 L0.38,0 V1" vector-effect="non-scaling-stroke" fill="none" stroke="#000" stroke-width="1.25" stroke-linecap="round" stroke-linejoin="round"/>
<path transform="translate(461.000,565.500) scale(4.032,4.500)" d="M0.03,0.24 C0.06,0.06 0.18,0 0.3,0 C0.46,0 0.58,0.1 0.58,0.27 C0.58,0.45 0.4,0.58 0,1 H0.62" vector-effect="non-scaling-stroke" fill="none" stroke="#000" stroke-width="1.25" stroke-linecap="round" stroke-linejoin="round"/>
<path transform="translate(440.800,620.600) scale(4.861,5.400)" d="M0,1 L0.36,0 L0.72,1 M0.13,0.66 H0.59" vector-effect="non-scaling-stroke" fill="none" stroke="#000" stroke-width="1.25" stroke-linecap="round" stroke-linejoin="round"/>
<path transform="translate(482.000,620.200) scale(5.079,5.600)" d="M0,1 V0 H0.33 C0.5,0 0.58,0.1 0.58,0.24 C0.58,0.38 0.5,0.47 0.33,0.47 H0 M0.33,0.47 C0.52,0.47 0.63,0.58 0.63,0.73 C0.63,0.9 0.52,1 0.33,1 H0" vector-effect="non-scaling-stroke" fill="none" stroke="#000" stroke-width="1.25" stroke-linecap="round" stroke-linejoin="round"/>
<path transform="translate(487.400,566.800) scale(3.939,4.200)" d="M0,0 H0.66 M0.33,0 V1" vector-effect="non-scaling-stroke" fill="none" stroke="#000" stroke-width="1.25" stroke-linecap="round" stroke-linejoin="round"/>
<path transform="translate(418.300,663.500) scale(5.972,5.800)" d="M0,1 L0.36,0 L0.72,1 M0.13,0.66 H0.59" vector-effect="non-scaling-stroke" fill="none" stroke="#000" stroke-width="1.25" stroke-linecap="round" stroke-linejoin="round"/>
<path transform="translate(464.500,663.800) scale(4.444,6.400)" d="M0,1 V0 H0.33 C0.5,0 0.58,0.1 0.58,0.24 C0.58,0.38 0.5,0.47 0.33,0.47 H0 M0.33,0.47 C0.52,0.47 0.63,0.58 0.63,0.73 C0.63,0.9 0.52,1 0.33,1 H0" vector-effect="non-scaling-stroke" fill="none" stroke="#000" stroke-width="1.25" stroke-linecap="round" stroke-linejoin="round"/>
<path transform="translate(401.300,619.600) scale(4.091,4.600)" d="M0,0 L0.66,1 M0.66,0 L0,1" vector-effect="non-scaling-stroke" fill="none" stroke="#000" stroke-width="1.25" stroke-linecap="round" stroke-linejoin="round"/>
</svg></body></html>
